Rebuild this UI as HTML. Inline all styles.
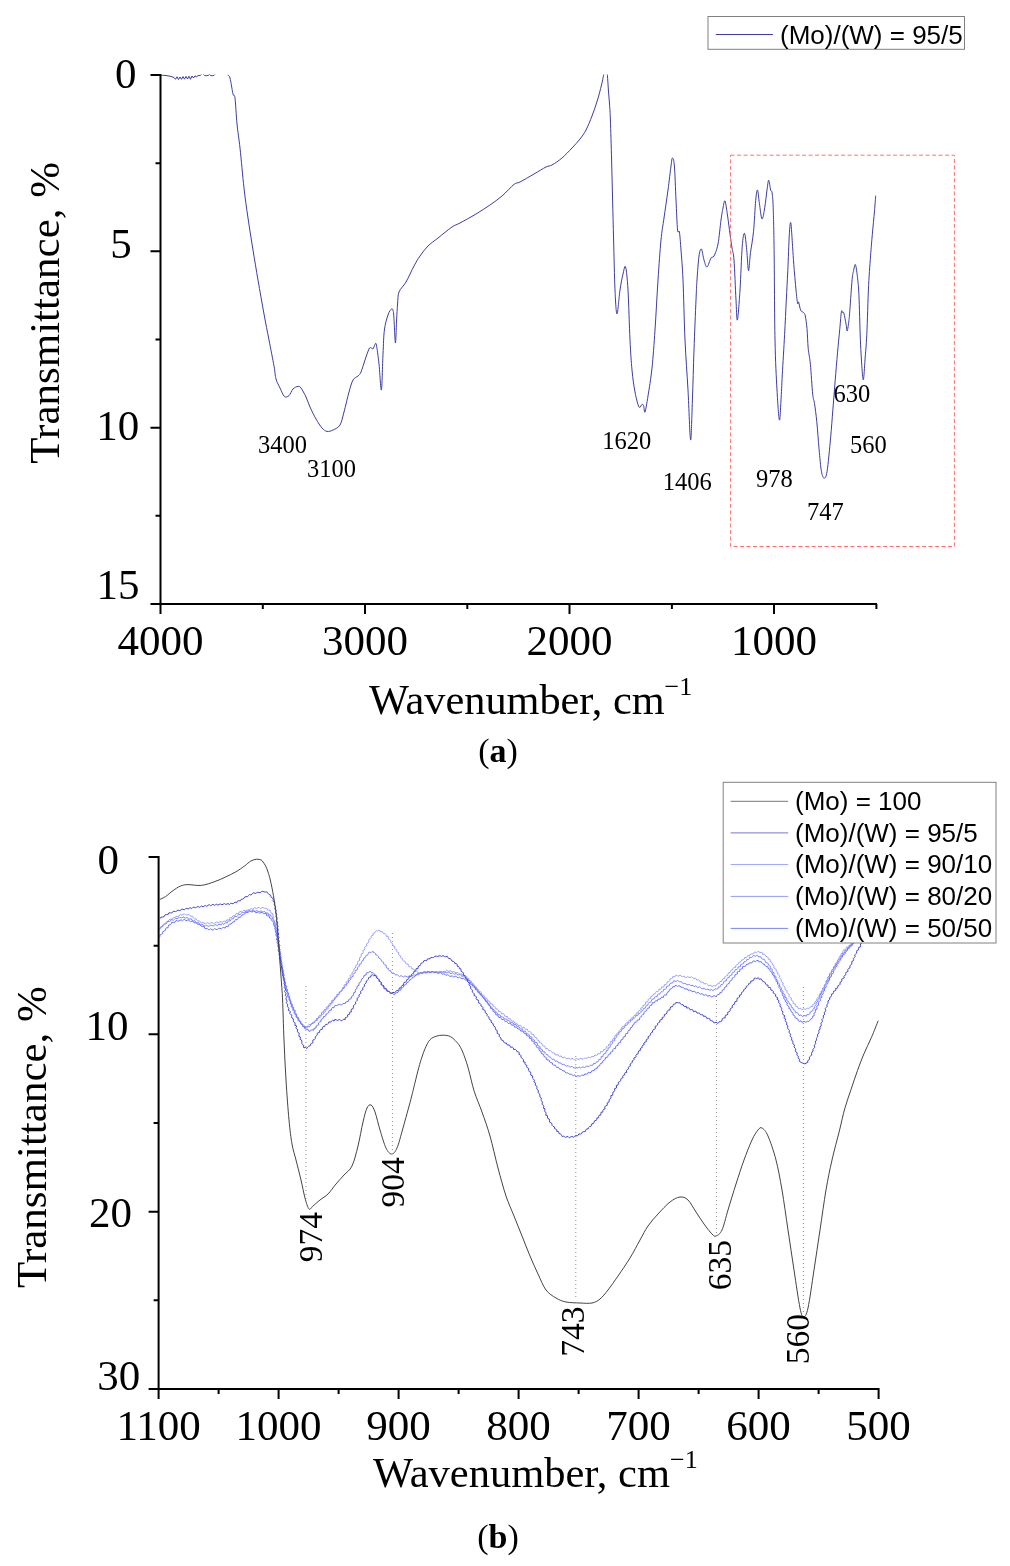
<!DOCTYPE html><html><head><meta charset="utf-8"><style>html,body{margin:0;padding:0;background:#fff;width:1010px;height:1566px;overflow:hidden}svg{display:block}</style></head><body>
<svg style="will-change:transform" width="1010" height="1566" viewBox="0 0 1010 1566">
<rect width="1010" height="1566" fill="#fff"/>
<defs><clipPath id="ca"><rect x="161" y="74.5" width="720" height="530"/></clipPath><clipPath id="cb"><rect x="159.5" y="850" width="722" height="540"/></clipPath></defs>
<g clip-path="url(#ca)" fill="none" stroke="#3c3ca4" stroke-width="1" stroke-linejoin="round">
<polyline points="160.5,75 162,75.2 166,75.5 170,76.2 172,76.8 174,77.5 175.5,79.3 177,76.8 178.5,79.5 180,77 181.5,79.3 183,76.6 184.5,79.2 186,76.4 187.5,79 189,76.2 190.5,79.3 192,76 193.5,78 195,75.8 196.5,77 197.5,75.8 199,75.5 200.5,75.4 202.5,73.2 204.5,75.5 206.5,75.7 208.5,75.4 209.5,74 210.5,75.5 212.5,75.7 214,75.4 216,73.2 218,73"/>
<path d="M227.60,75.00C228.00,75.50 229.10,74.83 230.00,78.00C230.90,81.17 232.17,90.67 233.00,94.00C233.83,97.33 234.33,93.00 235.00,98.00C235.67,103.00 236.17,115.67 237.00,124.00C237.83,132.33 238.83,137.33 240.00,148.00C241.17,158.67 242.67,176.33 244.00,188.00C245.33,199.67 246.50,207.67 248.00,218.00C249.50,228.33 251.33,239.67 253.00,250.00C254.67,260.33 256.17,269.33 258.00,280.00C259.83,290.67 262.17,304.00 264.00,314.00C265.83,324.00 267.33,331.33 269.00,340.00C270.67,348.67 272.83,359.50 274.00,366.00C275.17,372.50 275.00,375.33 276.00,379.00C277.00,382.67 278.60,385.10 280.00,388.00C281.40,390.90 282.90,395.13 284.40,396.40C285.90,397.67 287.57,396.83 289.00,395.60C290.43,394.37 291.50,390.53 293.00,389.00C294.50,387.47 296.67,386.57 298.00,386.40C299.33,386.23 299.67,386.23 301.00,388.00C302.33,389.77 304.50,393.83 306.00,397.00C307.50,400.17 308.33,403.33 310.00,407.00C311.67,410.67 314.00,415.50 316.00,419.00C318.00,422.50 320.17,425.93 322.00,428.00C323.83,430.07 325.17,431.07 327.00,431.40C328.83,431.73 330.83,431.07 333.00,430.00C335.17,428.93 338.17,428.00 340.00,425.00C341.83,422.00 342.50,417.50 344.00,412.00C345.50,406.50 347.50,397.33 349.00,392.00C350.50,386.67 351.50,382.67 353.00,380.00C354.50,377.33 356.67,377.33 358.00,376.00C359.33,374.67 359.83,374.67 361.00,372.00C362.17,369.33 363.67,363.83 365.00,360.00C366.33,356.17 368.00,351.07 369.00,349.00C370.00,346.93 370.33,347.60 371.00,347.60C371.67,347.60 372.33,349.53 373.00,349.00C373.67,348.47 374.43,345.07 375.00,344.40C375.57,343.73 375.73,341.73 376.40,345.00C377.07,348.27 378.17,356.50 379.00,364.00C379.83,371.50 380.73,391.67 381.40,390.00C382.07,388.33 382.50,364.00 383.00,354.00C383.50,344.00 383.57,336.50 384.40,330.00C385.23,323.50 386.80,318.50 388.00,315.00C389.20,311.50 390.67,309.17 391.60,309.00C392.53,308.83 392.97,308.33 393.60,314.00C394.23,319.67 394.90,342.00 395.40,343.00C395.90,344.00 396.23,326.50 396.60,320.00C396.97,313.50 397.20,308.67 397.60,304.00C398.00,299.33 397.60,295.67 399.00,292.00C400.40,288.33 403.50,286.33 406.00,282.00C408.50,277.67 411.67,270.33 414.00,266.00C416.33,261.67 417.67,259.33 420.00,256.00C422.33,252.67 425.00,249.00 428.00,246.00C431.00,243.00 434.00,241.17 438.00,238.00C442.00,234.83 448.33,229.50 452.00,227.00C455.67,224.50 456.00,225.17 460.00,223.00C464.00,220.83 471.00,217.00 476.00,214.00C481.00,211.00 485.67,208.00 490.00,205.00C494.33,202.00 498.00,199.43 502.00,196.00C506.00,192.57 511.00,186.73 514.00,184.40C517.00,182.07 516.67,183.73 520.00,182.00C523.33,180.27 529.67,176.50 534.00,174.00C538.33,171.50 543.00,168.50 546.00,167.00C549.00,165.50 549.33,166.50 552.00,165.00C554.67,163.50 558.67,160.83 562.00,158.00C565.33,155.17 569.00,151.17 572.00,148.00C575.00,144.83 577.67,142.00 580.00,139.00C582.33,136.00 584.00,133.83 586.00,130.00C588.00,126.17 590.08,121.00 592.00,116.00C593.92,111.00 595.92,105.17 597.50,100.00C599.08,94.83 600.50,89.08 601.50,85.00C602.50,80.92 603.00,77.67 603.50,75.50C604.00,73.33 604.00,72.58 604.50,72.00C605.00,71.42 606.02,71.42 606.50,72.00C606.98,72.58 607.08,72.50 607.40,75.50C607.72,78.50 608.03,85.08 608.40,90.00C608.77,94.92 609.27,100.00 609.60,105.00C609.93,110.00 610.07,110.83 610.40,120.00C610.73,129.17 611.23,146.67 611.60,160.00C611.97,173.33 612.27,186.67 612.60,200.00C612.93,213.33 613.20,225.00 613.60,240.00C614.00,255.00 614.43,277.67 615.00,290.00C615.57,302.33 616.17,314.00 617.00,314.00C617.83,314.00 619.00,296.67 620.00,290.00C621.00,283.33 622.07,277.83 623.00,274.00C623.93,270.17 624.77,264.33 625.60,267.00C626.43,269.67 627.27,277.83 628.00,290.00C628.73,302.17 629.33,326.67 630.00,340.00C630.67,353.33 631.17,361.33 632.00,370.00C632.83,378.67 633.83,385.83 635.00,392.00C636.17,398.17 637.83,404.93 639.00,407.00C640.17,409.07 641.23,404.63 642.00,404.40C642.77,404.17 643.10,404.33 643.60,405.60C644.10,406.87 644.27,413.60 645.00,412.00C645.73,410.40 646.83,403.33 648.00,396.00C649.17,388.67 650.83,379.00 652.00,368.00C653.17,357.00 654.00,344.67 655.00,330.00C656.00,315.33 657.00,295.00 658.00,280.00C659.00,265.00 660.00,250.33 661.00,240.00C662.00,229.67 662.83,226.33 664.00,218.00C665.17,209.67 666.83,198.67 668.00,190.00C669.17,181.33 670.27,171.33 671.00,166.00C671.73,160.67 671.83,158.00 672.40,158.00C672.97,158.00 673.80,159.00 674.40,166.00C675.00,173.00 675.47,189.33 676.00,200.00C676.53,210.67 677.03,224.67 677.60,230.00C678.17,235.33 678.83,228.67 679.40,232.00C679.97,235.33 680.40,242.00 681.00,250.00C681.60,258.00 682.33,265.00 683.00,280.00C683.67,295.00 684.17,321.67 685.00,340.00C685.83,358.33 687.07,373.33 688.00,390.00C688.93,406.67 689.87,438.33 690.60,440.00C691.33,441.67 691.83,415.00 692.40,400.00C692.97,385.00 693.40,366.67 694.00,350.00C694.60,333.33 695.50,311.67 696.00,300.00C696.50,288.33 696.50,287.33 697.00,280.00C697.50,272.67 698.27,261.17 699.00,256.00C699.73,250.83 700.57,248.33 701.40,249.00C702.23,249.67 703.07,257.00 704.00,260.00C704.93,263.00 705.83,267.33 707.00,267.00C708.17,266.67 709.83,259.83 711.00,258.00C712.17,256.17 712.83,258.33 714.00,256.00C715.17,253.67 716.83,250.00 718.00,244.00C719.17,238.00 720.17,226.00 721.00,220.00C721.83,214.00 722.33,211.17 723.00,208.00C723.67,204.83 724.23,199.67 725.00,201.00C725.77,202.33 726.77,210.50 727.60,216.00C728.43,221.50 729.27,228.67 730.00,234.00C730.73,239.33 731.33,243.67 732.00,248.00C732.67,252.33 733.33,251.33 734.00,260.00C734.67,268.67 735.43,290.00 736.00,300.00C736.57,310.00 736.73,321.67 737.40,320.00C738.07,318.33 739.20,302.22 740.00,290.00C740.80,277.78 741.45,256.15 742.20,246.70C742.95,237.25 743.75,232.80 744.50,233.30C745.25,233.80 746.03,243.48 746.70,249.70C747.37,255.92 747.87,270.10 748.50,270.60C749.13,271.10 749.67,259.17 750.50,252.70C751.33,246.23 752.63,240.52 753.50,231.80C754.37,223.08 755.03,207.37 755.70,200.40C756.37,193.43 756.88,189.50 757.50,190.00C758.12,190.50 758.65,198.57 759.40,203.40C760.15,208.23 761.12,218.27 762.00,219.00C762.88,219.73 763.87,212.63 764.70,207.80C765.53,202.97 766.33,194.60 767.00,190.00C767.67,185.40 768.10,180.20 768.70,180.20C769.30,180.20 770.03,187.88 770.60,190.00C771.17,192.12 771.67,189.93 772.10,192.90C772.53,195.87 772.87,198.33 773.20,207.80C773.53,217.27 773.80,227.67 774.10,249.70C774.40,271.73 774.52,316.62 775.00,340.00C775.48,363.38 776.27,376.67 777.00,390.00C777.73,403.33 778.73,418.33 779.40,420.00C780.07,421.67 780.52,407.55 781.00,400.00C781.48,392.45 781.70,385.62 782.30,374.70C782.90,363.78 783.93,346.95 784.60,334.50C785.27,322.05 785.77,310.65 786.30,300.00C786.83,289.35 787.30,281.48 787.80,270.60C788.30,259.72 788.80,242.67 789.30,234.70C789.80,226.73 790.25,220.80 790.80,222.80C791.35,224.80 792.10,239.73 792.60,246.70C793.10,253.67 793.23,257.38 793.80,264.60C794.37,271.82 795.37,283.52 796.00,290.00C796.63,296.48 797.17,301.50 797.60,303.50C798.03,305.50 798.08,300.87 798.60,302.00C799.12,303.13 799.87,308.53 800.70,310.30C801.53,312.07 802.83,311.65 803.60,312.60C804.37,313.55 804.73,313.32 805.30,316.00C805.87,318.68 806.52,323.32 807.00,328.70C807.48,334.08 807.63,342.37 808.20,348.30C808.77,354.23 809.65,356.65 810.40,364.30C811.15,371.95 812.02,387.68 812.70,394.20C813.38,400.72 813.82,398.80 814.50,403.40C815.18,408.00 816.03,414.13 816.80,421.80C817.57,429.47 818.33,441.17 819.10,449.40C819.87,457.63 820.55,466.42 821.40,471.20C822.25,475.98 823.25,478.10 824.20,478.10C825.15,478.10 826.03,477.90 827.10,471.20C828.17,464.50 829.63,448.23 830.60,437.90C831.57,427.57 832.13,418.78 832.90,409.20C833.67,399.62 834.43,389.78 835.20,380.40C835.97,371.02 836.73,361.52 837.50,352.90C838.27,344.28 839.15,335.57 839.80,328.70C840.45,321.83 840.93,314.38 841.40,311.70C841.87,309.02 842.18,312.35 842.60,312.60C843.02,312.85 843.32,311.23 843.90,313.20C844.48,315.17 845.55,321.43 846.10,324.40C846.65,327.37 846.73,331.62 847.20,331.00C847.67,330.38 848.45,324.28 848.90,320.70C849.35,317.12 849.37,316.35 849.90,309.50C850.43,302.65 851.48,286.08 852.10,279.60C852.72,273.12 853.05,273.10 853.60,270.60C854.15,268.10 854.77,263.60 855.40,264.60C856.03,265.60 856.82,271.62 857.40,276.60C857.98,281.58 858.40,283.90 858.90,294.50C859.40,305.10 859.85,327.42 860.40,340.20C860.95,352.98 861.68,364.68 862.20,371.20C862.72,377.72 863.03,381.20 863.50,379.30C863.97,377.40 864.45,367.27 865.00,359.80C865.55,352.33 866.20,346.87 866.80,334.50C867.40,322.13 867.93,299.23 868.60,285.60C869.27,271.97 870.18,261.18 870.80,252.70C871.42,244.22 871.68,241.68 872.30,234.70C872.92,227.72 873.93,217.32 874.50,210.80C875.07,204.28 875.50,198.13 875.70,195.60"/>
</g>
<rect x="730.6" y="155.2" width="223.8" height="391.3" fill="none" stroke="#ff7070" stroke-width="1" stroke-dasharray="4 2.5"/>
<path d="M160.5,74 V605 M159.5,604 H877 M150.5,75 H160.5 M150.5,251.3 H160.5 M150.5,427.7 H160.5 M150.5,604 H160.5 M155.5,163.2 H160.5 M155.5,339.5 H160.5 M155.5,515.8 H160.5 M160.5,604 V614 M365,604 V614 M569.5,604 V614 M774,604 V614 M262.8,604 V609 M467.3,604 V609 M671.9,604 V609 M876.4,604 V609" stroke="#000" stroke-width="2" fill="none"/>
<g font-family='"Liberation Serif", serif' font-size="43" fill="#000">
<text x="136.5" y="88.2" text-anchor="end">0</text>
<text x="131.8" y="258.45" text-anchor="end">5</text>
<text x="139.2" y="439.65" text-anchor="end">10</text>
<text x="139.5" y="598.5" text-anchor="end">15</text>
<text x="160.5" y="655" text-anchor="middle">4000</text>
<text x="365" y="655" text-anchor="middle">3000</text>
<text x="569.5" y="655" text-anchor="middle">2000</text>
<text x="774" y="655" text-anchor="middle">1000</text>
</g>
<text transform="translate(59.3,312.8) rotate(-90)" text-anchor="middle" font-family='"Liberation Serif", serif' font-size="43">Transmittance, %</text>
<text x="369" y="714" font-family='"Liberation Serif", serif' font-size="42.3">Wavenumber, cm<tspan font-size="26" dy="-19.5">−1</tspan></text>
<text x="498" y="761.5" text-anchor="middle" font-family='"Liberation Serif", serif' font-size="34">(<tspan font-weight="bold">a</tspan>)</text>
<g font-family='"Liberation Serif", serif' font-size="24.5" fill="#000">
<text x="258" y="453">3400</text>
<text x="307" y="477">3100</text>
<text x="602.2" y="449">1620</text>
<text x="662.8" y="490">1406</text>
<text x="756" y="486.8">978</text>
<text x="807" y="520">747</text>
<text x="833.4" y="401.7">630</text>
<text x="850" y="453">560</text>
</g>
<rect x="708" y="16.5" width="256.5" height="32.8" fill="#fff" stroke="#808080" stroke-width="1"/>
<line x1="715.8" y1="34.5" x2="772.9" y2="34.5" stroke="#3c3ca4" stroke-width="1"/>
<text x="780" y="43.5" font-family='"Liberation Sans", sans-serif' font-size="26">(Mo)/(W) = 95/5</text>
<line x1="305.9" y1="986" x2="305.9" y2="1200" stroke="#909090" stroke-width="1" stroke-dasharray="1 3"/>
<line x1="392.4" y1="933" x2="392.4" y2="1150" stroke="#909090" stroke-width="1" stroke-dasharray="1 3"/>
<line x1="575.8" y1="1056" x2="575.8" y2="1300" stroke="#909090" stroke-width="1" stroke-dasharray="1 3"/>
<line x1="716.4" y1="996" x2="716.4" y2="1234" stroke="#909090" stroke-width="1" stroke-dasharray="1 3"/>
<line x1="803.4" y1="987" x2="803.4" y2="1315" stroke="#909090" stroke-width="1" stroke-dasharray="1 3"/>
<g clip-path="url(#cb)" fill="none" stroke-width="1" stroke-linejoin="round">
<path d="M159.0,929.0 L159.9,928.9 L159.9,927.5 L161.0,927.1 L162.4,926.8 L162.6,925.0 L163.8,924.2 L165.2,923.7 L165.8,922.3 L166.8,921.4 L168.2,921.3 L168.9,920.0 L170.0,919.2 L171.7,919.5 L172.5,918.1 L173.8,917.6 L175.2,917.7 L175.9,916.3 L177.1,916.4 L178.3,916.6 L179.4,915.0 L180.5,914.3 L181.8,915.2 L183.0,914.3 L184.3,913.9 L185.6,915.0 L187.1,914.9 L188.8,914.3 L189.9,915.7 L191.1,916.2 L192.7,916.3 L193.3,917.9 L194.4,918.9 L196.2,918.8 L196.9,920.2 L197.9,921.0 L199.5,920.9 L200.3,922.1 L201.4,922.8 L202.9,922.3 L204.0,923.0 L205.2,923.8 L206.6,923.1 L207.9,922.7 L209.3,923.8 L210.6,922.9 L212.0,922.6 L213.4,923.4 L214.8,923.3 L216.1,922.0 L217.5,922.3 L218.9,922.8 L219.9,921.6 L221.3,921.8 L222.6,922.2 L223.6,921.1 L224.8,921.2 L226.2,921.4 L226.7,919.9 L227.9,919.9 L229.3,919.9 L229.5,918.0 L230.8,917.6 L232.2,917.3 L232.8,916.0 L234.2,915.6 L235.5,915.1 L236.1,913.4 L237.8,913.5 L239.0,912.9 L239.8,911.4 L241.5,911.9 L242.7,911.3 L243.9,910.1 L245.5,911.0 L246.8,910.5 L247.9,909.7 L249.4,910.3 L250.3,908.9 L251.4,908.5 L252.9,909.4 L253.8,908.1 L254.9,907.6 L256.5,908.5 L257.9,907.5 L259.3,907.7 L260.7,908.7 L262.0,907.6 L263.4,907.7 L264.5,908.6 L265.8,908.1 L267.2,908.7 L267.5,910.1 L268.6,910.2 L270.1,910.0 L270.4,911.6 L271.0,912.8 L272.9,913.8 L272.9,916.1 L273.0,916.9 L274.1,917.5 L273.1,918.7 L273.7,919.6 L274.6,920.5 L274.1,921.7 L274.1,922.8 L275.3,923.8 L275.0,925.1 L274.3,926.4 L275.4,927.5 L275.8,928.8 L275.1,930.2 L275.9,931.5 L276.5,932.8 L275.7,934.3 L276.2,935.7 L277.2,937.0 L276.6,938.6 L276.6,940.1 L277.6,941.0 L276.7,942.3 L277.3,943.3 L278.4,944.3 L277.7,945.7 L277.8,946.9 L278.9,948.0 L278.3,949.4 L278.2,950.7 L279.7,951.8 L279.3,953.2 L279.0,954.6 L280.3,955.7 L279.8,957.1 L279.5,958.5 L280.7,959.7 L280.4,961.1 L280.4,962.4 L281.9,963.5 L281.1,964.9 L281.0,966.2 L282.4,967.2 L281.6,968.6 L281.9,969.7 L282.9,970.7 L282.4,972.0 L282.1,973.1 L283.3,973.9 L283.4,975.4 L283.0,977.0 L284.2,978.2 L284.6,979.4 L284.1,980.9 L285.3,981.9 L285.6,983.2 L284.9,984.6 L285.8,985.6 L286.6,986.5 L285.8,988.0 L286.6,988.9 L287.7,989.7 L287.0,991.1 L287.6,992.0 L288.4,992.9 L288.1,994.1 L288.7,995.0 L289.6,995.8 L288.7,997.6 L290.0,998.6 L290.6,999.7 L290.4,1001.2 L290.6,1002.4 L291.9,1003.2 L291.7,1004.6 L291.9,1005.8 L293.0,1006.6 L293.4,1007.6 L292.8,1009.1 L294.1,1009.8 L295.2,1010.6 L294.8,1012.1 L295.3,1013.3 L296.8,1014.1 L296.5,1015.8 L296.7,1017.3 L298.4,1018.0 L298.8,1019.4 L298.7,1021.0 L300.1,1021.7 L300.7,1022.8 L300.8,1024.1 L301.9,1024.6 L302.5,1025.3 L302.7,1026.5 L304.4,1026.4 L305.6,1026.6 L307.1,1027.0 L308.1,1025.5 L309.2,1024.3 L311.3,1024.5 L311.9,1023.4 L312.6,1022.4 L314.2,1022.7 L314.9,1021.5 L315.7,1020.4 L317.4,1020.4 L317.7,1018.7 L318.7,1017.6 L320.4,1017.4 L321.1,1016.1 L321.3,1014.7 L322.7,1014.6 L323.7,1014.0 L323.6,1012.4 L324.9,1012.0 L325.8,1011.2 L325.8,1009.7 L326.9,1009.0 L328.3,1008.5 L327.9,1006.6 L329.4,1006.2 L330.6,1005.4 L330.7,1003.8 L331.4,1002.9 L333.0,1002.7 L332.9,1001.1 L333.5,1000.1 L334.9,999.7 L335.4,998.5 L335.6,997.1 L337.1,996.7 L337.8,995.6 L338.0,994.2 L339.7,993.8 L339.8,992.2 L340.5,991.2 L342.0,990.6 L342.3,989.1 L342.5,987.7 L344.2,987.4 L344.1,986.0 L344.3,984.7 L345.9,984.3 L346.5,983.3 L346.2,981.8 L347.6,981.2 L348.4,980.3 L348.1,978.7 L349.8,978.3 L350.4,977.2 L350.0,975.5 L351.5,974.9 L352.1,973.8 L352.1,972.3 L353.3,971.5 L354.0,970.5 L353.8,968.8 L355.0,968.0 L355.9,967.2 L355.6,965.7 L356.9,965.0 L357.7,964.0 L357.5,962.4 L358.0,961.2 L359.7,960.6 L359.5,959.0 L359.6,957.6 L361.0,956.8 L361.2,955.5 L361.2,954.0 L362.9,953.4 L363.2,952.2 L362.8,950.6 L364.2,949.9 L365.0,948.9 L364.5,947.4 L365.3,946.5 L366.7,946.1 L366.6,944.9 L366.6,943.8 L368.3,942.8 L368.7,941.3 L368.8,939.6 L370.2,938.8 L371.2,937.9 L371.0,936.3 L372.1,935.6 L373.3,935.2 L373.0,933.7 L373.6,933.0 L374.8,932.9 L374.9,931.9 L376.3,930.6 L377.6,931.0 L378.8,930.2 L380.1,930.8 L380.6,932.1 L382.0,931.5 L382.9,932.2 L383.4,933.6 L385.1,933.6 L386.1,934.7 L386.4,936.5 L388.2,936.3 L388.4,937.5 L388.3,938.9 L389.8,939.4 L390.6,940.3 L390.5,941.8 L391.3,942.8 L392.7,943.5 L392.9,944.9 L393.3,946.1 L395.0,946.6 L394.6,948.3 L395.4,949.2 L396.8,949.7 L396.7,951.2 L397.5,952.2 L398.9,952.7 L398.6,954.4 L399.3,955.4 L400.7,955.9 L400.7,957.3 L401.3,958.4 L402.7,958.8 L402.7,960.3 L403.8,961.0 L405.2,961.5 L405.4,963.0 L406.3,964.0 L408.0,964.0 L408.5,965.3 L408.9,966.8 L410.6,966.7 L411.6,967.3 L411.7,969.0 L413.0,968.9 L414.5,969.6 L415.0,971.2 L416.6,971.1 L417.6,971.7 L418.3,973.1 L419.8,972.5 L421.0,972.7 L422.1,973.6 L423.3,972.8 L424.5,972.6 L425.9,973.5 L427.0,972.4 L428.2,971.6 L429.7,972.5 L431.0,971.9 L432.1,971.5 L433.4,972.5 L434.6,972.1 L435.9,971.4 L437.2,972.7 L438.5,972.1 L439.7,971.3 L440.9,972.4 L442.0,972.4 L442.9,971.2 L444.7,972.2 L445.7,971.4 L446.6,970.3 L448.1,971.3 L450.0,971.0 L451.0,970.8 L451.7,972.0 L452.8,971.8 L454.0,971.5 L455.0,972.3 L456.2,972.8 L457.6,972.4 L458.5,973.7 L459.7,974.3 L461.4,973.7 L462.3,975.2 L463.5,975.7 L465.3,975.5 L466.0,977.1 L466.5,978.1 L468.0,978.0 L468.9,978.7 L468.8,980.4 L470.1,980.8 L471.4,981.3 L471.6,982.8 L472.7,983.4 L473.9,984.1 L474.0,985.7 L475.4,986.2 L476.5,987.0 L476.5,988.7 L478.1,989.1 L478.8,990.1 L478.9,991.8 L480.8,991.8 L481.5,992.8 L481.4,994.5 L482.8,995.0 L484.2,995.5 L484.2,997.3 L485.3,997.9 L486.9,998.2 L487.3,999.6 L487.8,1000.9 L489.4,1001.1 L490.1,1002.3 L490.4,1003.7 L491.9,1004.0 L493.0,1004.6 L493.2,1006.2 L494.6,1006.5 L495.4,1007.5 L495.8,1008.9 L497.3,1009.0 L498.2,1009.8 L498.5,1011.5 L500.3,1011.3 L501.1,1012.4 L501.5,1013.9 L503.4,1013.6 L504.2,1014.6 L504.6,1016.1 L505.9,1016.5 L507.5,1016.5 L507.9,1017.9 L508.7,1018.9 L510.3,1018.7 L511.0,1020.0 L511.6,1021.2 L513.1,1021.1 L514.2,1021.7 L514.8,1023.2 L516.2,1023.3 L517.3,1023.8 L517.9,1025.3 L519.3,1025.4 L520.7,1025.3 L521.3,1026.8 L522.2,1027.6 L523.9,1027.1 L524.6,1028.5 L525.5,1029.4 L527.2,1029.0 L527.7,1030.6 L528.5,1031.7 L530.3,1031.7 L531.0,1032.6 L531.3,1034.1 L532.8,1034.3 L533.9,1034.9 L534.0,1036.6 L535.2,1037.3 L536.6,1037.7 L536.9,1039.3 L537.9,1040.2 L539.2,1040.8 L539.2,1042.5 L540.7,1042.9 L541.9,1043.5 L542.1,1045.1 L543.1,1045.9 L544.6,1046.1 L545.2,1047.2 L545.5,1048.6 L547.3,1048.5 L548.3,1049.4 L548.9,1050.8 L550.6,1050.6 L551.5,1051.6 L552.2,1052.8 L553.6,1052.9 L554.8,1053.2 L555.2,1055.0 L556.6,1054.9 L558.0,1054.7 L558.7,1056.0 L559.8,1056.4 L561.2,1055.9 L561.9,1057.2 L563.1,1057.8 L564.6,1057.1 L565.7,1058.1 L566.8,1058.7 L568.2,1058.3 L569.4,1058.2 L570.6,1059.5 L571.9,1058.4 L573.1,1058.6 L574.3,1059.8 L575.5,1059.0 L576.8,1058.5 L578.0,1059.3 L579.3,1059.4 L580.4,1058.1 L581.8,1058.8 L583.1,1059.3 L584.3,1058.1 L585.6,1058.1 L587.0,1058.4 L588.0,1057.2 L589.3,1057.3 L590.8,1057.8 L591.6,1056.3 L592.9,1056.5 L594.1,1056.3 L594.9,1055.0 L596.3,1055.3 L597.4,1055.0 L597.9,1053.5 L599.3,1053.8 L600.4,1053.3 L600.6,1051.7 L602.1,1051.7 L603.2,1051.1 L603.6,1049.6 L605.3,1049.4 L606.2,1048.2 L606.3,1046.9 L607.6,1046.7 L608.5,1046.0 L608.5,1044.5 L609.9,1044.1 L610.3,1042.9 L610.3,1041.4 L612.2,1041.2 L612.6,1040.0 L612.9,1038.6 L614.5,1038.2 L614.9,1036.8 L615.0,1035.3 L616.7,1035.0 L616.9,1033.6 L617.7,1032.6 L619.2,1032.3 L619.0,1030.7 L619.8,1029.8 L621.3,1029.4 L621.8,1028.0 L622.2,1026.5 L623.8,1026.2 L625.0,1025.4 L625.3,1023.8 L626.4,1023.0 L627.9,1022.7 L628.3,1021.2 L629.1,1020.2 L630.5,1020.0 L631.0,1018.8 L631.6,1017.8 L633.1,1017.8 L633.3,1016.6 L633.8,1015.8 L635.7,1015.2 L636.1,1013.9 L636.4,1012.8 L637.8,1013.1 L638.1,1012.1 L638.6,1010.9 L640.1,1010.1 L641.2,1009.7 L640.7,1008.0 L642.2,1007.8 L643.1,1007.0 L643.0,1005.3 L644.7,1005.1 L645.5,1004.0 L645.4,1002.2 L647.1,1001.9 L648.1,1000.9 L648.2,999.3 L649.4,998.6 L650.9,998.3 L650.8,996.5 L652.1,996.1 L653.2,995.4 L653.6,994.0 L655.1,993.8 L655.7,992.6 L656.3,991.4 L657.9,991.6 L658.7,990.7 L659.0,989.1 L660.7,989.4 L661.3,988.3 L661.7,986.9 L663.5,987.2 L664.1,986.1 L664.4,984.6 L666.2,984.5 L666.9,983.4 L667.3,981.8 L668.7,981.4 L669.8,980.6 L670.0,978.9 L671.4,978.6 L672.6,978.1 L672.8,976.5 L674.2,976.6 L675.2,976.6 L676.1,974.9 L677.5,975.8 L678.7,976.0 L680.1,975.2 L681.3,975.9 L682.4,977.0 L683.9,976.1 L684.9,976.7 L685.9,977.8 L687.5,976.8 L688.8,977.1 L690.0,977.6 L691.4,976.8 L692.6,977.4 L693.8,978.8 L695.2,977.9 L696.1,978.9 L696.9,980.1 L698.6,979.8 L699.7,980.5 L700.3,982.1 L701.8,982.1 L703.2,982.1 L703.8,983.5 L705.1,983.9 L706.7,983.6 L707.7,984.7 L708.5,985.9 L710.0,985.2 L711.1,985.4 L711.9,986.8 L713.3,985.6 L714.3,985.7 L715.7,986.2 L716.5,984.9 L717.7,983.7 L719.1,983.8 L719.3,982.4 L720.0,981.5 L721.7,981.5 L722.1,980.0 L722.8,978.9 L724.5,978.5 L724.8,976.9 L725.8,975.9 L727.6,975.6 L728.0,974.0 L728.4,972.8 L730.0,972.7 L730.5,971.5 L731.0,970.3 L732.6,970.0 L732.9,968.5 L733.8,967.6 L735.5,967.5 L735.7,965.9 L736.4,964.9 L737.8,964.5 L738.5,963.6 L738.8,962.3 L740.1,962.1 L741.3,961.3 L741.8,959.8 L743.4,959.7 L744.4,958.9 L744.7,957.3 L746.5,957.7 L747.2,956.7 L747.8,955.5 L749.3,956.1 L749.8,954.7 L751.1,953.9 L752.9,954.0 L753.8,952.7 L755.1,952.0 L756.6,952.7 L757.7,951.6 L759.1,951.6 L759.8,952.8 L761.2,952.2 L762.3,952.7 L762.6,954.4 L764.3,954.1 L765.1,955.1 L765.8,956.4 L767.3,956.7 L768.2,957.9 L768.2,959.2 L769.8,959.2 L770.3,960.2 L770.1,961.7 L771.4,962.1 L772.3,962.9 L772.0,964.5 L773.4,965.1 L774.0,966.2 L773.8,967.9 L775.4,968.6 L776.3,969.8 L776.0,971.2 L776.9,972.0 L778.1,972.7 L777.7,974.2 L778.5,975.1 L779.9,975.9 L779.2,977.7 L780.1,978.6 L781.3,979.6 L781.2,981.1 L782.0,982.2 L783.3,983.0 L782.7,984.7 L783.3,985.9 L784.8,986.6 L785.0,987.8 L784.9,989.3 L786.0,990.0 L787.2,990.9 L787.0,992.6 L788.0,993.7 L789.3,994.6 L788.9,996.4 L789.9,997.4 L791.4,998.1 L791.1,999.9 L792.2,1000.7 L793.2,1001.5 L793.0,1003.1 L794.1,1003.7 L795.4,1004.1 L795.1,1005.6 L795.8,1006.2 L797.6,1006.7 L798.1,1008.5 L799.6,1008.5 L800.8,1008.3 L801.7,1009.6 L802.9,1009.3 L804.0,1008.6 L805.2,1009.5 L806.3,1009.0 L807.3,1008.0 L808.7,1008.4 L809.8,1007.9 L810.6,1006.6 L812.4,1006.5 L812.6,1005.3 L812.9,1004.3 L814.3,1004.0 L814.9,1003.1 L814.9,1001.7 L816.1,1001.1 L816.9,1000.1 L816.8,998.5 L817.8,997.6 L819.2,996.8 L819.1,995.1 L819.6,993.8 L821.0,993.4 L821.2,992.3 L821.3,991.0 L822.5,990.4 L822.8,989.3 L822.8,988.0 L824.6,987.7 L824.4,986.2 L824.7,985.0 L825.7,984.1 L826.6,983.1 L826.2,981.5 L828.1,981.1 L827.8,979.4 L828.5,978.3 L829.9,977.5 L829.6,975.8 L830.4,974.9 L831.6,974.2 L831.5,972.8 L831.9,971.6 L833.2,970.8 L833.2,969.3 L833.5,967.9 L834.9,967.1 L835.1,965.7 L835.1,964.2 L836.7,963.5 L837.4,962.3 L837.0,960.7 L838.2,959.8 L839.3,959.0 L838.9,957.4 L839.6,956.4 L841.1,956.0 L840.9,954.6 L841.1,953.5 L842.5,953.3 L842.9,951.5 L843.6,949.9 L845.4,949.7 L846.0,948.5 L846.4,947.1 L848.0,947.3 L848.5,946.2 L849.0,945.2 L850.6,945.2 L851.0,944.0 L851.4,942.8 L852.8,942.6 L853.2,941.8 L853.0,940.5 L854.4,940.3 L855.0,939.4 L855.2,937.8 L856.8,936.8 L858.4,935.3 L858.1,934.0 L859.2,933.5 L860.2,933.0 L860.0,931.4 L861.2,930.7 L862.5,930.1 L862.8,928.6 L863.7,927.5 L865.4,927.1 L865.2,925.0 L866.6,924.3 L867.8,923.3 L868.0,921.6 L869.1,920.6 L870.8,920.1 L871.0,918.4 L871.8,917.2 L873.3,916.7 L873.3,915.0 L874.4,914.4 L875.8,913.9 L875.8,912.5 L876.3,911.6 L877.6,911.6 L877.4,910.4 L878.0,910.0" stroke="#9aa0ff"/>
<path d="M159.0,929.0 L160.1,929.2 L160.1,927.6 L161.1,926.9 L162.7,926.6 L163.3,925.1 L164.4,924.1 L166.1,923.9 L167.0,922.8 L167.7,921.4 L169.3,921.6 L170.6,920.8 L171.6,919.6 L173.4,920.2 L174.6,919.3 L175.6,918.3 L177.0,918.7 L178.0,918.2 L179.4,917.2 L180.7,917.7 L181.8,918.1 L182.9,916.9 L184.0,917.3 L185.1,918.1 L186.4,917.7 L187.7,917.7 L188.5,919.3 L190.0,919.0 L191.4,918.8 L192.1,920.4 L193.3,921.0 L194.9,920.7 L195.7,922.2 L196.8,922.8 L198.3,922.7 L199.4,923.4 L200.1,924.8 L201.6,924.7 L203.0,924.6 L203.9,925.9 L205.3,925.8 L206.6,925.3 L207.9,926.1 L209.3,926.1 L210.6,925.3 L212.0,925.3 L213.4,926.2 L214.7,924.7 L216.1,924.9 L217.6,925.7 L218.7,924.1 L220.0,924.6 L221.4,924.7 L222.4,923.2 L223.9,924.5 L224.7,923.2 L225.9,922.7 L227.3,923.1 L227.8,921.7 L228.6,920.9 L230.2,921.0 L230.8,919.6 L231.8,918.8 L233.4,918.8 L233.9,917.2 L235.0,916.4 L236.8,916.6 L237.7,915.4 L238.6,914.1 L240.2,914.5 L241.2,913.6 L242.1,912.4 L243.5,912.6 L244.8,912.4 L245.6,911.1 L246.9,911.4 L248.0,911.2 L249.3,910.3 L250.6,911.3 L251.9,910.7 L253.4,910.0 L255.0,911.5 L256.0,911.1 L257.2,910.4 L258.3,911.5 L259.6,911.5 L261.0,910.9 L262.2,911.8 L263.5,911.8 L264.9,911.6 L265.7,912.8 L267.0,913.0 L268.2,913.1 L268.3,914.8 L269.5,914.7 L270.7,914.8 L270.8,916.2 L271.6,916.9 L272.7,917.6 L272.8,919.1 L273.4,920.5 L274.9,921.9 L275.0,924.0 L274.8,924.9 L276.0,925.6 L275.4,926.7 L275.7,927.6 L276.7,928.5 L275.8,929.8 L276.6,930.8 L277.4,931.9 L276.2,933.3 L277.6,934.3 L277.5,935.6 L277.0,937.0 L278.0,938.1 L277.9,939.5 L277.3,940.9 L278.6,942.1 L278.9,943.4 L278.1,944.9 L279.0,946.2 L279.5,947.5 L278.8,948.9 L279.0,950.2 L280.4,951.4 L279.7,952.8 L279.6,954.1 L280.9,955.2 L280.6,956.5 L280.2,957.8 L281.2,958.8 L281.2,960.0 L280.9,961.4 L282.1,962.5 L281.9,963.9 L281.4,965.3 L282.5,966.5 L282.8,967.7 L282.0,969.2 L283.1,970.3 L283.4,971.5 L282.8,972.9 L283.5,974.0 L284.3,975.2 L283.7,976.5 L283.9,977.7 L284.8,978.8 L284.7,980.0 L284.5,981.3 L285.7,982.2 L285.5,983.5 L285.1,984.7 L286.1,985.7 L286.8,986.7 L285.8,988.0 L286.7,989.0 L287.6,989.8 L287.0,991.5 L287.7,992.7 L288.9,993.8 L288.1,995.4 L288.9,996.6 L290.0,997.6 L289.4,999.1 L289.9,1000.3 L291.0,1001.2 L290.9,1002.5 L290.9,1003.8 L292.5,1004.5 L292.0,1005.9 L292.4,1007.1 L293.9,1007.6 L293.3,1009.1 L293.9,1010.1 L295.2,1010.7 L294.6,1012.2 L295.4,1013.3 L296.6,1014.3 L296.4,1016.0 L297.6,1017.0 L298.8,1017.9 L298.6,1019.6 L299.4,1020.7 L300.8,1021.3 L300.9,1022.8 L301.6,1023.7 L302.9,1024.2 L303.0,1025.5 L303.4,1026.4 L304.8,1026.0 L304.9,1027.2 L306.2,1027.9 L307.3,1027.1 L308.3,1026.6 L309.9,1026.6 L310.6,1025.2 L311.4,1023.7 L313.3,1023.4 L314.0,1022.6 L314.2,1021.2 L315.5,1021.0 L316.4,1020.2 L316.4,1018.6 L318.1,1018.4 L318.6,1017.2 L319.1,1015.9 L320.6,1015.4 L321.5,1014.4 L321.6,1012.6 L323.0,1012.0 L324.0,1011.4 L324.0,1009.8 L325.5,1009.6 L326.3,1008.7 L326.4,1007.2 L327.7,1006.6 L329.0,1006.1 L329.0,1004.4 L329.8,1003.5 L331.5,1003.2 L331.8,1001.9 L331.9,1000.3 L333.8,1000.2 L334.4,999.1 L334.6,997.7 L335.9,997.1 L337.1,996.6 L336.8,994.7 L338.4,994.5 L339.2,993.6 L339.2,992.1 L340.6,991.7 L341.8,991.1 L342.0,989.7 L342.8,988.8 L344.2,988.3 L344.4,986.9 L345.3,986.0 L346.6,985.4 L346.6,983.7 L347.7,983.1 L348.8,982.4 L348.5,980.8 L349.9,980.2 L350.9,979.4 L350.9,977.9 L351.6,976.8 L353.2,976.3 L353.0,974.6 L353.6,973.5 L355.2,973.0 L355.2,971.5 L355.5,970.3 L357.2,970.0 L357.6,968.9 L357.3,967.4 L358.6,966.9 L359.3,966.2 L359.2,964.3 L361.2,963.8 L361.5,962.3 L362.0,960.9 L363.4,960.4 L363.6,959.0 L364.1,957.9 L365.4,957.5 L365.7,956.4 L366.0,955.3 L367.3,955.3 L368.3,953.7 L369.0,952.1 L370.7,952.5 L371.7,952.1 L373.2,951.4 L373.6,952.7 L374.7,952.8 L375.6,953.6 L375.8,955.0 L377.4,955.3 L378.5,956.3 L378.8,958.0 L380.1,958.8 L381.3,959.7 L381.4,961.1 L382.4,961.7 L383.7,962.2 L383.6,963.9 L384.5,964.8 L386.2,965.2 L386.0,967.0 L386.7,968.1 L388.4,968.3 L388.4,969.9 L389.2,970.7 L390.7,970.8 L390.9,972.1 L392.1,973.2 L393.9,973.0 L394.7,974.3 L395.9,975.0 L397.4,974.6 L398.4,975.7 L399.6,976.5 L401.1,975.6 L402.2,976.3 L403.5,976.9 L404.8,976.1 L406.0,976.1 L407.3,977.0 L408.5,976.3 L409.7,975.7 L411.0,976.2 L412.3,976.1 L413.2,974.8 L414.6,975.1 L416.0,975.2 L416.8,973.8 L418.1,973.5 L419.7,973.8 L420.9,972.6 L422.1,972.8 L423.4,973.2 L424.4,971.9 L425.7,972.2 L427.1,973.0 L428.3,972.1 L429.6,971.8 L431.0,972.5 L432.3,971.8 L433.7,971.7 L435.0,972.5 L436.2,971.8 L437.4,971.6 L438.7,972.4 L439.9,972.1 L441.1,971.5 L442.4,972.5 L443.6,972.2 L444.9,971.7 L446.1,972.8 L447.4,972.7 L448.8,971.9 L449.9,973.4 L451.1,973.7 L452.5,972.9 L453.6,973.7 L454.8,974.2 L456.2,973.4 L457.2,974.7 L458.5,975.0 L460.0,974.4 L461.0,975.6 L462.1,976.4 L463.9,975.7 L464.7,977.3 L465.7,978.4 L467.1,978.3 L467.6,979.3 L467.9,980.5 L469.5,980.5 L470.1,981.5 L470.5,982.8 L471.9,983.1 L472.6,984.1 L472.5,985.8 L474.4,985.9 L474.7,987.2 L475.3,988.4 L476.9,988.8 L477.1,990.3 L477.7,991.5 L479.2,991.9 L479.6,993.2 L479.9,994.6 L481.7,994.7 L482.2,995.8 L482.5,997.2 L483.8,997.7 L484.6,998.6 L484.7,1000.2 L486.0,1000.7 L487.3,1001.2 L487.3,1002.9 L488.2,1003.7 L489.7,1004.1 L489.7,1005.7 L490.5,1006.7 L491.9,1007.2 L492.4,1008.3 L492.8,1009.6 L494.1,1010.0 L495.0,1010.7 L495.3,1012.1 L496.7,1012.2 L497.3,1013.1 L497.7,1014.3 L499.2,1014.7 L500.4,1015.3 L500.9,1017.0 L502.4,1016.9 L503.6,1017.4 L504.1,1019.0 L505.5,1019.0 L506.9,1019.1 L507.3,1020.8 L508.7,1020.7 L509.9,1021.2 L510.5,1022.6 L511.9,1022.6 L513.2,1022.9 L513.7,1024.4 L515.1,1024.5 L516.4,1024.8 L516.8,1026.3 L517.9,1026.9 L519.4,1026.9 L519.9,1028.2 L520.7,1029.2 L522.5,1028.8 L522.8,1030.4 L523.7,1031.3 L525.5,1031.1 L526.0,1032.5 L526.5,1033.9 L528.3,1033.9 L529.2,1034.8 L529.6,1036.5 L530.8,1036.8 L532.0,1037.2 L532.1,1038.7 L532.9,1039.6 L534.4,1040.0 L534.7,1041.3 L535.2,1042.5 L537.0,1042.7 L537.4,1044.0 L537.5,1045.5 L539.0,1046.0 L540.1,1046.6 L540.0,1048.4 L541.1,1049.1 L542.3,1049.6 L542.6,1051.0 L543.2,1052.0 L545.0,1051.9 L545.0,1053.4 L545.8,1054.3 L547.4,1054.5 L548.1,1055.9 L549.1,1056.8 L550.5,1057.1 L551.2,1058.4 L552.0,1059.4 L553.8,1059.1 L554.6,1060.1 L555.4,1061.3 L556.9,1061.0 L557.9,1061.7 L558.6,1063.0 L560.0,1062.8 L561.1,1063.2 L561.8,1064.4 L563.3,1064.3 L564.6,1064.6 L565.6,1065.8 L566.8,1066.1 L568.3,1065.7 L569.3,1066.8 L570.6,1067.0 L572.0,1066.3 L573.0,1067.5 L574.2,1068.0 L575.6,1067.0 L576.8,1067.6 L578.0,1068.0 L579.2,1067.1 L580.5,1068.0 L581.8,1067.4 L583.0,1066.8 L584.4,1067.5 L585.6,1067.1 L586.7,1065.8 L588.2,1066.6 L589.4,1066.1 L590.4,1065.1 L591.8,1065.3 L593.1,1065.0 L593.6,1063.3 L595.2,1063.7 L596.0,1062.9 L596.5,1061.8 L598.0,1061.8 L598.5,1060.7 L598.9,1059.4 L600.6,1059.4 L601.1,1058.3 L601.1,1056.7 L602.9,1056.5 L603.1,1055.0 L603.8,1053.9 L605.7,1053.6 L606.1,1052.0 L606.1,1050.7 L607.7,1050.6 L608.0,1049.4 L608.1,1048.0 L609.7,1047.7 L610.2,1046.5 L610.2,1045.0 L611.6,1044.4 L612.4,1043.3 L612.5,1041.9 L613.6,1041.0 L614.9,1040.3 L614.6,1038.6 L615.8,1037.9 L616.8,1037.0 L616.8,1035.5 L617.6,1034.6 L618.9,1034.1 L619.0,1032.6 L619.8,1031.8 L621.3,1031.3 L621.8,1029.9 L622.4,1028.6 L624.0,1028.2 L624.6,1026.9 L625.2,1025.5 L626.8,1025.2 L627.6,1024.1 L628.1,1022.9 L629.4,1022.4 L630.5,1021.8 L630.6,1020.2 L631.9,1020.0 L632.9,1019.6 L633.0,1018.2 L634.1,1018.1 L635.6,1017.0 L635.9,1015.4 L637.3,1015.6 L638.0,1015.2 L638.2,1013.6 L640.2,1013.2 L640.8,1012.5 L641.0,1011.2 L642.4,1010.9 L643.1,1009.9 L643.5,1008.5 L645.2,1008.2 L645.7,1006.9 L646.2,1005.5 L647.8,1005.1 L648.2,1003.6 L649.0,1002.4 L650.6,1002.2 L651.3,1001.0 L651.7,999.7 L652.9,999.1 L654.3,998.7 L654.5,997.2 L655.7,996.7 L657.2,996.5 L657.4,994.9 L658.3,994.1 L659.9,994.2 L660.2,992.7 L661.0,991.8 L662.5,991.8 L663.4,991.1 L663.5,989.4 L665.2,989.3 L666.3,988.4 L666.6,986.6 L668.1,986.1 L669.4,985.5 L669.7,983.9 L670.9,983.1 L672.4,983.1 L673.1,982.0 L673.7,980.7 L675.0,981.1 L676.2,981.2 L677.5,980.5 L678.6,981.2 L679.7,981.9 L681.2,981.7 L682.3,982.4 L683.2,983.7 L684.8,983.5 L686.1,983.8 L687.0,984.9 L688.3,984.6 L689.6,984.5 L690.6,985.7 L692.0,985.3 L693.2,985.5 L694.2,986.8 L695.7,985.8 L696.8,986.6 L697.8,987.7 L699.3,986.9 L700.6,987.3 L701.6,988.6 L702.9,988.6 L704.4,988.2 L705.4,989.5 L706.7,989.4 L708.0,989.0 L708.9,990.1 L710.0,990.1 L711.5,989.5 L712.9,990.6 L714.1,989.7 L715.1,988.8 L716.8,989.2 L718.2,988.3 L718.4,986.9 L719.9,987.0 L720.6,986.0 L721.0,984.6 L722.6,984.4 L723.4,983.3 L723.7,981.7 L725.0,981.0 L726.6,980.6 L726.7,978.8 L727.8,977.8 L729.2,977.6 L729.3,976.0 L730.5,975.5 L731.8,975.0 L732.0,973.5 L732.7,972.4 L734.3,972.1 L734.9,970.9 L735.3,969.6 L737.0,969.5 L737.8,968.6 L738.0,967.1 L739.2,966.7 L740.5,966.5 L740.7,964.6 L742.2,964.1 L743.6,963.5 L743.9,961.9 L745.4,961.5 L746.5,960.9 L746.9,959.4 L748.4,959.5 L749.2,958.8 L749.6,957.3 L751.6,957.6 L752.6,956.3 L753.8,955.4 L755.3,956.4 L756.6,955.5 L758.0,955.8 L758.6,957.0 L760.0,956.7 L761.1,957.1 L761.6,958.6 L762.8,959.2 L764.4,959.4 L765.1,960.8 L765.5,962.4 L767.3,962.7 L768.2,963.8 L768.4,965.1 L769.5,965.7 L770.5,966.4 L770.0,968.0 L771.1,968.7 L772.4,969.3 L772.0,970.9 L772.6,972.1 L774.1,972.7 L773.9,974.3 L774.2,975.7 L776.0,976.4 L775.9,978.0 L776.0,979.2 L777.3,979.9 L777.9,980.9 L777.5,982.5 L778.8,983.2 L779.6,984.3 L779.2,985.9 L780.1,986.9 L781.4,987.7 L781.2,989.3 L781.8,990.5 L783.1,991.3 L782.8,992.9 L783.4,994.0 L784.9,994.6 L785.0,995.9 L784.9,997.3 L786.4,997.7 L786.8,999.1 L787.0,1000.7 L788.5,1001.4 L789.0,1002.7 L789.3,1004.1 L790.9,1004.6 L791.1,1006.0 L791.5,1007.3 L792.9,1007.7 L793.2,1009.0 L793.7,1010.0 L794.9,1010.3 L795.3,1011.4 L795.4,1012.6 L797.6,1012.8 L798.5,1014.1 L799.1,1015.6 L800.9,1015.0 L801.8,1015.7 L802.8,1016.8 L804.0,1015.5 L805.1,1015.7 L806.5,1016.1 L807.1,1014.5 L808.7,1014.5 L810.0,1013.7 L810.4,1011.9 L812.1,1011.0 L813.1,1010.6 L812.9,1009.3 L813.5,1008.5 L814.9,1008.0 L814.3,1006.4 L815.2,1005.6 L816.2,1004.7 L816.0,1003.2 L816.7,1002.1 L818.1,1001.3 L817.9,999.7 L818.6,998.5 L819.9,997.6 L819.9,996.0 L819.9,994.8 L821.2,994.2 L821.5,993.1 L821.1,991.7 L822.6,991.1 L823.2,990.0 L822.6,988.4 L823.8,987.6 L824.5,986.5 L824.3,985.1 L825.2,984.1 L826.3,983.1 L826.1,981.7 L826.5,980.5 L828.1,979.8 L827.7,978.3 L827.9,977.0 L829.3,976.3 L829.6,975.1 L829.4,973.7 L830.9,973.0 L831.5,971.9 L831.5,970.3 L833.0,969.6 L833.5,968.4 L833.4,966.8 L834.7,966.0 L836.0,965.3 L835.6,963.4 L836.7,962.6 L837.9,961.9 L838.0,960.5 L838.5,959.3 L840.1,959.0 L840.2,957.6 L840.3,956.4 L841.9,956.2 L842.2,955.1 L842.5,953.4 L844.3,953.0 L844.7,951.5 L845.2,950.3 L846.9,950.2 L847.3,948.9 L847.7,947.8 L849.2,947.7 L849.4,946.4 L849.9,945.5 L851.5,945.4 L851.9,944.0 L852.3,943.0 L853.7,943.0 L853.7,941.8 L854.0,940.7 L855.7,940.4 L856.6,938.9 L857.6,936.7 L858.9,936.6 L859.5,935.8 L859.4,934.4 L860.7,934.0 L861.8,933.3 L861.8,931.6 L863.4,931.1 L864.1,929.9 L864.4,928.3 L865.8,927.6 L866.9,926.6 L866.9,924.7 L868.5,924.0 L869.7,923.1 L869.8,921.3 L871.1,920.5 L872.5,919.9 L872.5,918.1 L873.6,917.3 L875.0,916.8 L875.1,915.4 L875.7,914.5 L877.1,914.3 L877.0,913.1 L877.1,912.1 L878.0,912.0" stroke="#7c84ff"/>
<path d="M159.0,937.0 L159.9,936.7 L159.7,935.1 L161.1,934.5 L162.4,933.7 L162.7,931.9 L164.1,931.1 L165.4,930.4 L165.6,928.9 L166.3,927.8 L168.1,927.7 L168.3,926.2 L168.8,924.9 L170.4,924.7 L171.2,923.8 L171.6,922.3 L173.4,922.4 L174.9,922.3 L175.9,920.6 L177.4,920.9 L178.9,921.2 L179.9,920.1 L181.3,920.0 L182.6,920.6 L183.7,919.6 L184.8,919.4 L185.9,920.8 L187.1,920.3 L188.4,919.9 L189.4,920.9 L190.5,921.6 L192.1,921.2 L193.2,921.5 L194.0,922.8 L195.5,922.7 L196.8,923.0 L197.6,924.4 L199.1,924.1 L200.1,924.7 L201.1,926.1 L202.5,926.6 L204.2,926.5 L204.7,928.3 L205.9,928.7 L207.3,928.5 L208.2,929.5 L209.4,929.7 L210.7,928.7 L212.0,930.1 L213.3,929.8 L214.5,928.7 L216.0,929.3 L217.5,929.5 L218.7,928.3 L220.0,928.3 L221.4,928.8 L222.5,927.8 L223.6,927.5 L225.1,928.1 L225.8,926.6 L226.9,926.3 L228.3,926.4 L228.8,925.2 L229.4,924.0 L231.1,924.1 L232.0,923.0 L232.6,922.0 L234.2,922.0 L234.8,920.8 L235.5,919.6 L237.2,919.7 L238.0,918.5 L238.6,917.1 L240.2,917.3 L241.3,916.4 L242.0,914.9 L243.6,914.7 L244.8,913.9 L245.5,912.5 L246.9,912.4 L248.2,912.6 L249.3,911.2 L250.6,911.4 L251.8,912.0 L253.4,911.3 L255.0,911.8 L255.9,912.8 L257.1,912.2 L258.4,912.0 L259.6,913.0 L260.9,912.6 L262.4,912.5 L263.4,913.6 L264.8,913.6 L266.4,913.6 L266.6,915.5 L267.6,915.9 L269.1,915.8 L269.3,917.0 L269.7,918.1 L271.0,918.3 L271.3,919.5 L271.7,920.6 L272.9,921.4 L273.9,922.6 L273.4,924.5 L274.5,926.1 L275.3,927.9 L274.6,929.0 L275.6,929.7 L276.2,930.6 L275.2,931.9 L276.1,932.8 L276.7,933.8 L275.9,935.1 L276.9,936.1 L277.7,937.2 L276.9,938.6 L276.8,939.9 L278.1,941.0 L277.3,942.5 L277.8,943.8 L278.5,945.0 L278.0,946.4 L278.6,947.7 L279.5,949.0 L278.3,950.5 L279.1,951.7 L279.8,953.0 L279.0,954.4 L279.7,955.7 L280.2,956.9 L279.5,958.3 L280.5,959.4 L280.7,960.6 L280.0,961.9 L280.8,962.9 L281.5,963.9 L280.7,965.5 L281.4,966.8 L282.3,968.0 L281.5,969.5 L282.3,970.7 L283.2,971.9 L282.4,973.4 L282.5,974.7 L283.9,975.7 L283.0,977.2 L283.3,978.4 L284.7,979.3 L284.3,980.7 L284.0,982.0 L285.2,982.9 L284.9,984.2 L285.1,985.4 L286.0,986.3 L285.3,987.7 L286.1,988.7 L287.2,989.6 L286.5,991.0 L286.7,992.1 L287.8,993.2 L287.9,994.6 L287.3,996.1 L288.9,997.1 L289.3,998.3 L288.9,999.8 L290.2,1000.7 L290.4,1002.0 L290.0,1003.5 L291.3,1004.3 L291.4,1005.6 L291.3,1007.0 L292.4,1007.8 L293.3,1008.7 L292.7,1010.2 L293.5,1011.1 L294.5,1011.9 L294.1,1013.3 L294.7,1014.2 L296.3,1014.9 L296.1,1016.7 L296.9,1017.8 L298.2,1018.7 L298.1,1020.4 L299.0,1021.3 L300.6,1021.8 L300.5,1023.4 L301.4,1024.3 L302.7,1024.7 L302.6,1026.2 L303.6,1026.8 L304.8,1026.9 L304.6,1028.5 L306.4,1029.2 L308.1,1029.5 L308.9,1031.1 L310.3,1031.2 L311.4,1029.9 L313.0,1030.0 L314.0,1030.0 L313.9,1028.4 L315.0,1028.1 L316.2,1027.7 L316.1,1026.0 L317.2,1025.3 L318.8,1024.8 L318.5,1023.0 L319.6,1022.1 L321.1,1021.5 L320.9,1019.7 L322.1,1018.9 L323.3,1018.2 L323.3,1016.7 L324.9,1016.4 L325.9,1015.6 L326.1,1014.0 L327.4,1013.4 L328.6,1012.7 L328.8,1011.1 L329.9,1010.3 L331.5,1010.1 L331.6,1008.5 L332.3,1007.5 L334.0,1007.8 L334.3,1006.5 L334.8,1005.6 L336.7,1005.5 L338.0,1005.0 L339.2,1004.1 L340.5,1004.8 L341.8,1004.9 L342.8,1003.6 L344.0,1003.5 L345.3,1003.5 L345.7,1002.0 L346.9,1001.6 L348.3,1001.4 L348.6,999.7 L349.9,999.1 L351.4,998.4 L351.3,997.0 L352.0,996.1 L353.3,995.5 L353.5,994.2 L353.6,992.8 L355.3,992.2 L355.3,990.7 L355.6,989.4 L356.9,988.6 L357.0,987.1 L357.5,985.9 L359.0,985.4 L358.9,983.9 L359.4,982.6 L360.8,981.9 L361.3,980.5 L361.6,979.1 L363.0,978.3 L363.8,977.3 L363.8,975.7 L365.0,975.1 L366.3,974.8 L366.1,973.3 L366.8,972.7 L368.6,972.8 L369.5,971.5 L370.8,971.6 L371.6,972.9 L373.2,972.8 L373.9,973.5 L374.3,974.9 L375.9,975.1 L376.7,976.3 L376.8,978.0 L378.2,978.8 L379.2,979.8 L379.0,981.4 L380.5,981.8 L381.3,982.8 L381.1,984.3 L381.8,985.4 L383.3,985.9 L383.6,987.2 L383.8,988.6 L385.1,988.9 L386.2,989.9 L386.9,991.3 L388.7,991.4 L389.6,992.6 L390.5,993.9 L392.1,993.2 L393.0,993.8 L394.4,994.7 L395.3,993.3 L396.4,992.8 L398.0,992.4 L398.7,990.7 L399.7,990.2 L401.0,989.9 L401.3,988.4 L402.3,987.7 L403.6,987.0 L403.8,985.3 L405.4,985.0 L406.3,984.0 L406.7,982.7 L408.2,982.2 L409.1,981.3 L409.6,979.9 L411.1,979.5 L412.0,978.5 L412.6,977.2 L414.1,977.0 L415.2,976.3 L415.9,974.9 L417.3,974.8 L418.7,974.6 L419.5,973.2 L420.8,972.8 L422.3,973.0 L423.5,971.9 L425.0,972.1 L426.2,972.2 L427.3,971.4 L428.6,971.7 L429.9,972.8 L431.3,971.9 L432.7,971.6 L433.9,972.6 L435.3,972.5 L436.6,972.2 L437.7,973.5 L439.0,973.0 L440.5,972.5 L441.5,973.7 L442.6,974.3 L443.9,973.7 L445.0,974.3 L445.9,975.3 L447.4,974.8 L448.7,975.3 L449.9,976.4 L451.1,976.2 L452.3,975.8 L453.3,976.9 L454.5,976.8 L455.9,976.1 L457.0,977.4 L458.2,977.9 L459.7,977.0 L460.8,978.1 L462.1,978.6 L463.6,978.4 L464.7,979.5 L465.9,980.2 L467.3,980.0 L467.7,981.4 L468.5,982.2 L470.0,982.2 L470.1,983.9 L471.1,984.5 L472.6,984.8 L472.9,986.3 L473.8,987.2 L475.5,987.4 L475.2,989.4 L476.8,989.8 L477.9,990.6 L477.9,992.4 L479.3,993.0 L480.7,993.6 L480.8,995.3 L481.9,996.1 L483.1,996.6 L483.4,997.9 L484.0,999.0 L485.5,999.3 L485.6,1000.9 L486.2,1002.0 L487.8,1002.4 L488.0,1003.8 L488.4,1005.1 L489.9,1005.7 L490.4,1006.9 L490.5,1008.4 L492.1,1008.8 L493.2,1009.5 L493.0,1011.2 L493.9,1012.1 L495.4,1012.4 L495.7,1013.6 L495.9,1015.0 L497.6,1014.9 L498.1,1015.9 L498.7,1017.4 L500.4,1017.5 L501.3,1018.5 L502.0,1019.8 L503.7,1019.4 L504.5,1020.5 L505.2,1021.6 L506.7,1021.4 L507.5,1022.5 L508.3,1023.5 L510.0,1023.0 L510.9,1023.9 L511.6,1025.2 L513.2,1024.9 L514.1,1025.8 L514.7,1027.2 L516.2,1027.1 L517.1,1027.8 L517.8,1029.0 L519.2,1029.1 L520.2,1029.8 L520.7,1031.1 L522.2,1031.1 L523.4,1031.6 L523.8,1033.0 L525.0,1033.6 L526.3,1034.0 L526.6,1035.7 L528.2,1035.9 L529.2,1036.8 L529.6,1038.4 L531.1,1038.4 L531.6,1039.5 L531.7,1041.0 L533.2,1041.3 L534.2,1042.1 L534.0,1043.8 L535.4,1044.3 L536.3,1045.2 L536.2,1046.9 L537.5,1047.6 L539.1,1048.0 L539.0,1049.7 L539.5,1050.9 L541.1,1051.3 L541.2,1052.8 L541.8,1053.9 L543.4,1054.2 L543.8,1055.5 L544.1,1056.7 L545.5,1056.9 L546.2,1057.8 L546.4,1059.6 L548.0,1059.9 L549.4,1060.4 L549.7,1062.0 L550.8,1062.7 L552.4,1062.9 L552.7,1064.6 L553.8,1065.1 L555.3,1065.2 L556.0,1066.3 L556.7,1067.5 L558.3,1067.2 L559.1,1068.1 L559.7,1069.3 L561.2,1069.1 L561.9,1070.1 L563.0,1070.9 L564.5,1070.9 L565.2,1072.3 L566.3,1073.0 L567.9,1072.8 L568.8,1073.7 L569.9,1074.4 L571.3,1074.1 L572.3,1075.1 L573.3,1075.9 L574.7,1074.8 L575.6,1076.4 L576.8,1076.3 L578.0,1075.6 L579.2,1076.2 L580.4,1076.0 L581.4,1075.2 L582.7,1075.3 L584.0,1075.4 L584.8,1073.9 L586.3,1074.2 L587.5,1073.9 L588.2,1072.3 L589.9,1072.8 L591.1,1072.4 L591.7,1070.9 L593.0,1070.7 L594.4,1070.5 L594.8,1069.0 L595.9,1068.7 L597.2,1068.4 L597.3,1066.8 L598.4,1066.2 L599.7,1065.8 L600.0,1064.5 L600.6,1063.4 L602.1,1063.1 L602.6,1062.0 L603.1,1060.7 L604.5,1060.2 L605.3,1059.2 L605.4,1057.5 L607.0,1057.4 L607.9,1056.7 L608.1,1055.2 L609.0,1054.4 L610.4,1054.0 L610.4,1052.3 L611.7,1051.8 L612.9,1051.2 L612.9,1049.5 L613.8,1048.6 L615.6,1048.5 L615.6,1046.8 L616.4,1045.8 L618.0,1045.5 L617.9,1043.6 L619.0,1042.9 L620.6,1042.5 L620.7,1041.0 L621.1,1039.8 L622.8,1039.5 L623.0,1038.1 L623.5,1036.8 L625.4,1036.6 L625.3,1034.9 L625.9,1033.6 L627.7,1033.4 L627.8,1031.8 L628.3,1030.5 L629.9,1030.2 L630.2,1028.9 L630.5,1027.7 L632.0,1027.4 L632.3,1026.2 L632.5,1025.1 L633.8,1024.9 L633.9,1023.9 L634.8,1022.2 L636.5,1022.1 L637.1,1021.3 L637.1,1020.2 L638.0,1019.9 L639.5,1019.7 L639.7,1017.7 L640.4,1017.1 L641.6,1016.7 L641.8,1015.4 L642.6,1014.6 L644.0,1014.1 L644.1,1012.4 L644.9,1011.4 L646.4,1010.9 L646.9,1009.5 L647.5,1008.3 L649.3,1008.0 L649.4,1006.4 L650.1,1005.4 L651.7,1005.3 L652.0,1004.0 L652.5,1002.6 L654.3,1002.8 L654.9,1001.4 L655.9,1000.8 L657.4,1000.9 L657.8,999.4 L659.0,999.1 L660.3,999.0 L660.9,997.7 L661.9,997.1 L663.5,997.4 L663.7,995.7 L664.8,995.0 L666.5,994.9 L666.9,993.4 L667.5,992.1 L669.0,991.6 L669.4,990.2 L670.1,989.0 L671.7,988.7 L672.4,987.8 L672.9,986.6 L674.4,986.9 L674.9,985.8 L676.2,985.4 L677.4,986.3 L678.6,985.9 L680.0,985.9 L680.9,987.3 L682.4,987.2 L683.6,987.7 L684.6,989.0 L686.0,989.0 L687.3,988.8 L688.1,990.3 L689.5,990.2 L690.9,990.2 L691.8,991.5 L693.1,991.7 L694.6,991.1 L695.5,992.5 L696.6,993.2 L698.2,992.2 L699.2,993.5 L700.3,994.2 L701.9,993.7 L703.0,994.5 L704.1,995.4 L705.6,994.7 L706.8,995.1 L707.7,996.4 L709.0,995.6 L710.1,995.6 L711.4,997.0 L712.9,996.3 L714.1,995.6 L715.4,996.4 L716.7,995.9 L717.7,994.5 L719.0,994.7 L719.7,994.0 L719.9,992.6 L721.5,992.5 L722.0,991.4 L722.4,990.0 L724.0,989.7 L724.4,988.2 L725.0,987.0 L726.7,986.5 L726.8,984.8 L727.8,983.8 L729.2,983.6 L729.4,982.1 L730.1,981.1 L731.4,980.6 L732.0,979.4 L732.4,978.0 L733.7,977.4 L734.8,976.5 L734.9,974.9 L736.1,974.3 L737.5,973.8 L737.2,972.0 L738.4,971.5 L739.9,971.3 L739.6,969.6 L741.1,969.0 L742.5,968.5 L742.7,966.6 L744.2,966.4 L745.6,966.2 L746.1,964.9 L747.0,964.1 L748.4,964.3 L748.9,963.1 L749.9,962.8 L751.8,963.0 L752.6,961.4 L753.9,960.9 L755.4,961.5 L756.6,960.8 L758.2,960.3 L758.8,961.8 L759.8,961.9 L761.3,961.7 L761.9,963.0 L762.8,963.9 L764.3,964.1 L764.9,965.4 L765.8,966.4 L767.7,966.4 L768.0,968.0 L768.5,969.0 L769.9,969.2 L770.0,970.5 L770.4,971.5 L771.6,972.0 L772.3,972.9 L772.1,974.3 L773.2,975.1 L774.3,975.9 L774.2,977.6 L775.3,978.6 L776.3,979.8 L775.9,981.2 L776.9,981.8 L777.6,982.7 L777.4,984.1 L778.5,984.9 L779.4,985.8 L778.8,987.4 L779.7,988.4 L780.7,989.4 L780.6,990.9 L781.2,992.0 L782.5,992.9 L782.2,994.5 L782.6,995.7 L784.2,996.3 L783.7,998.0 L784.2,999.0 L785.5,999.8 L785.2,1001.2 L785.9,1002.0 L787.4,1002.9 L786.8,1004.8 L788.0,1005.8 L789.1,1006.8 L788.8,1008.6 L790.5,1009.1 L790.8,1010.5 L791.2,1011.9 L792.6,1012.5 L793.0,1013.6 L793.1,1015.0 L794.3,1015.6 L795.1,1016.3 L794.9,1017.7 L795.9,1018.1 L797.7,1018.8 L798.2,1020.6 L799.5,1021.2 L800.9,1020.8 L801.7,1022.2 L802.9,1022.1 L804.0,1021.2 L805.2,1022.1 L806.3,1022.2 L807.3,1021.1 L808.8,1021.5 L809.8,1020.5 L810.6,1019.1 L812.3,1018.3 L812.7,1017.4 L812.5,1016.2 L814.1,1015.8 L814.1,1014.6 L813.9,1013.3 L815.2,1012.6 L815.5,1011.3 L815.2,1009.8 L817.0,1009.1 L816.9,1007.7 L816.8,1006.2 L818.3,1005.3 L818.5,1003.9 L818.4,1002.3 L819.5,1001.3 L820.7,1000.3 L819.8,998.7 L820.8,997.9 L822.1,997.2 L821.3,995.6 L822.0,994.6 L823.2,993.9 L823.1,992.5 L823.4,991.3 L824.7,990.5 L824.4,989.0 L825.0,987.9 L826.2,987.1 L826.0,985.6 L826.6,984.6 L827.7,983.7 L827.9,982.4 L828.0,981.1 L829.4,980.4 L829.6,979.1 L829.3,977.7 L830.9,977.1 L831.4,976.0 L831.3,974.5 L832.8,973.8 L833.5,972.7 L833.2,971.1 L834.2,970.2 L835.2,969.3 L834.9,967.6 L836.1,966.8 L837.2,966.0 L836.6,964.2 L838.1,963.7 L839.0,962.8 L838.8,961.3 L839.8,960.6 L840.8,959.9 L840.5,958.4 L841.6,957.9 L842.4,957.2 L842.5,955.3 L844.0,954.5 L845.2,953.6 L845.3,951.9 L846.6,951.3 L847.5,950.5 L847.4,948.8 L848.9,948.6 L849.7,947.9 L849.8,946.5 L851.0,946.0 L852.4,945.4 L852.0,943.6 L853.5,943.7 L854.0,943.0 L854.2,941.8 L855.8,941.4 L856.9,940.1 L857.7,937.8 L858.5,937.3 L859.6,937.0 L859.6,935.6 L860.1,934.6 L861.7,934.3 L862.1,933.0 L862.8,931.9 L864.2,931.3 L864.8,930.0 L865.2,928.4 L867.1,928.1 L867.5,926.6 L867.9,925.0 L869.7,924.7 L870.5,923.4 L870.7,921.8 L872.1,921.2 L873.2,920.4 L873.4,918.9 L874.3,918.1 L875.7,917.8 L875.5,916.2 L876.4,915.7 L877.7,915.6 L877.2,914.2 L878.0,914.0" stroke="#6870f8"/>
<path d="M159.5,918.3 L160.4,918.2 L161.1,917.0 L162.6,917.0 L164.1,916.6 L165.0,914.9 L166.6,914.5 L168.2,914.4 L168.9,912.8 L170.3,912.9 L171.8,913.0 L172.8,911.7 L174.0,911.2 L175.6,911.6 L176.8,910.9 L177.9,910.1 L179.3,910.5 L180.6,910.4 L181.6,909.1 L183.0,909.3 L184.4,909.9 L185.5,908.6 L186.7,908.3 L188.1,909.0 L189.2,908.2 L190.5,907.8 L191.8,908.5 L192.9,907.4 L194.2,907.2 L195.6,907.8 L196.7,907.1 L197.9,906.4 L199.3,907.4 L200.5,906.7 L201.7,906.0 L203.1,906.8 L204.2,906.0 L205.4,905.4 L206.8,906.4 L208.0,905.3 L209.2,904.6 L210.6,905.7 L211.8,905.1 L212.9,904.2 L214.3,905.4 L215.5,904.7 L216.7,904.2 L218.0,905.2 L219.3,904.4 L220.6,904.0 L221.9,904.8 L223.2,904.2 L224.5,903.6 L225.8,904.5 L226.9,904.0 L228.0,903.6 L229.5,904.5 L230.6,903.3 L231.8,903.4 L233.0,903.9 L234.0,902.9 L235.1,902.2 L236.7,902.7 L237.4,901.1 L238.7,900.7 L240.2,900.9 L241.1,899.4 L242.6,899.1 L243.9,898.5 L244.7,897.0 L246.0,896.6 L247.6,896.7 L248.5,895.5 L249.4,894.5 L251.0,895.0 L252.3,894.0 L253.3,892.7 L255.1,893.3 L256.3,893.3 L257.4,892.0 L258.9,892.5 L260.2,892.7 L261.1,891.8 L262.7,891.3 L264.0,891.8 L265.2,892.1 L266.8,891.8 L267.7,893.1 L268.7,894.2 L270.6,895.1 L270.8,896.2 L271.2,897.3 L272.5,897.9 L273.3,899.1 L273.0,900.8 L273.5,901.8 L274.8,902.6 L274.2,904.1 L274.5,905.4 L275.6,906.5 L275.1,908.0 L275.1,909.4 L276.3,910.6 L275.5,911.9 L275.8,913.0 L276.8,914.0 L276.5,915.2 L276.0,916.5 L277.0,917.6 L277.0,919.0 L276.4,920.6 L277.6,922.1 L277.6,923.1 L277.0,924.2 L277.5,925.3 L278.3,926.4 L276.9,927.7 L278.0,928.9 L278.3,930.1 L277.2,931.5 L278.1,932.8 L278.8,934.0 L277.7,935.4 L278.3,936.6 L279.2,937.8 L277.9,939.1 L278.5,940.2 L279.5,941.2 L278.5,942.8 L278.6,944.1 L280.0,945.3 L279.1,946.7 L279.1,948.0 L280.0,949.1 L279.7,950.4 L279.4,951.7 L280.2,952.8 L280.3,954.1 L279.6,955.4 L280.4,956.6 L281.1,957.8 L279.9,959.3 L281.0,960.4 L281.1,961.7 L280.4,963.1 L281.5,964.3 L282.1,965.5 L281.4,966.9 L281.6,968.2 L283.0,969.3 L282.1,970.8 L282.1,972.1 L283.5,973.2 L282.8,974.6 L282.7,976.0 L284.0,977.1 L283.6,978.5 L283.2,979.9 L284.5,981.0 L284.4,982.4 L283.9,983.7 L284.7,984.9 L285.1,986.1 L284.2,987.4 L285.3,988.7 L285.6,990.0 L284.5,991.5 L285.5,992.7 L286.1,993.9 L285.3,995.3 L286.2,996.4 L286.7,997.6 L285.7,998.9 L286.7,1000.0 L287.0,1001.3 L286.3,1002.7 L287.1,1003.8 L287.8,1004.8 L287.4,1006.2 L288.2,1007.3 L288.9,1008.4 L288.2,1010.3 L289.7,1010.9 L290.4,1011.8 L289.7,1013.4 L290.6,1014.4 L291.9,1015.2 L291.6,1016.7 L291.9,1018.0 L293.3,1018.8 L293.4,1020.3 L293.4,1021.7 L294.9,1022.6 L295.1,1024.0 L294.9,1025.3 L296.7,1025.9 L296.0,1027.6 L296.4,1028.8 L297.8,1029.7 L297.3,1031.3 L297.9,1032.4 L299.3,1033.3 L299.0,1034.8 L298.8,1036.2 L300.3,1036.9 L300.2,1038.1 L300.1,1039.3 L301.4,1039.9 L301.9,1041.6 L301.8,1043.4 L302.6,1044.7 L303.9,1045.5 L303.4,1047.0 L304.0,1047.9 L305.3,1047.3 L305.9,1048.0 L307.0,1048.4 L307.6,1047.1 L308.6,1046.2 L310.3,1045.7 L310.8,1043.9 L311.5,1043.2 L312.9,1042.9 L312.8,1041.4 L312.9,1040.0 L314.4,1039.5 L315.3,1038.5 L315.2,1036.9 L316.2,1036.0 L317.3,1035.1 L317.1,1033.5 L318.1,1032.7 L319.5,1032.4 L319.7,1030.8 L320.5,1029.6 L322.2,1029.4 L322.4,1027.8 L323.0,1026.6 L324.6,1026.5 L325.0,1025.2 L325.8,1024.3 L327.3,1024.4 L328.3,1023.4 L328.9,1021.9 L330.7,1022.2 L331.5,1021.1 L332.5,1020.2 L334.1,1021.1 L334.9,1019.3 L336.4,1019.9 L337.7,1020.5 L339.2,1019.4 L340.5,1020.3 L341.8,1020.8 L342.9,1019.7 L343.8,1019.3 L345.3,1019.5 L345.2,1017.8 L346.3,1017.4 L347.7,1016.8 L347.5,1014.9 L349.5,1014.3 L349.6,1013.2 L349.8,1012.1 L351.5,1011.8 L351.2,1010.3 L351.5,1009.1 L353.2,1008.6 L353.4,1007.2 L353.5,1005.7 L354.4,1004.7 L355.8,1003.9 L355.4,1002.1 L356.5,1001.2 L357.5,1000.2 L356.9,998.6 L358.1,997.7 L359.1,996.7 L358.9,995.1 L360.0,994.2 L361.0,993.1 L360.5,991.3 L361.6,990.3 L363.0,989.6 L362.6,987.9 L363.5,987.0 L364.7,986.2 L364.2,984.7 L364.9,984.0 L366.2,982.8 L366.3,981.0 L367.5,980.1 L368.5,979.2 L368.5,977.7 L369.7,977.2 L370.8,977.0 L370.8,975.7 L372.3,974.7 L373.6,975.8 L375.1,975.4 L376.2,976.0 L376.3,977.7 L378.0,978.5 L379.2,979.8 L379.2,981.2 L380.5,981.7 L381.4,982.6 L381.1,984.4 L382.5,985.1 L383.9,985.8 L383.9,987.4 L384.8,988.2 L386.3,988.6 L386.9,990.0 L387.6,991.2 L389.1,991.4 L390.1,992.2 L390.9,993.2 L392.0,992.9 L393.0,992.3 L394.5,992.9 L395.4,991.9 L396.3,990.7 L398.2,990.6 L399.1,989.1 L399.4,987.9 L401.0,988.0 L401.3,986.6 L401.9,985.5 L403.4,985.2 L403.6,983.7 L404.0,982.4 L405.6,982.1 L406.6,981.3 L406.7,979.8 L408.0,979.2 L408.9,978.5 L408.9,976.8 L410.4,976.6 L411.3,975.8 L411.5,974.3 L412.6,973.7 L413.8,973.1 L413.8,971.5 L415.3,971.2 L415.9,970.2 L416.1,968.7 L418.0,968.6 L418.1,967.1 L418.7,965.9 L420.2,965.6 L420.6,964.4 L421.1,963.2 L422.5,963.0 L423.2,962.2 L423.9,960.7 L425.3,960.5 L426.8,960.6 L427.4,958.9 L428.7,958.8 L430.0,958.9 L430.8,957.5 L432.4,957.6 L433.8,957.5 L434.9,956.2 L436.3,956.2 L437.7,956.5 L439.0,955.8 L440.3,955.9 L441.7,956.4 L443.0,955.5 L444.3,956.5 L445.6,956.8 L447.3,956.3 L447.9,957.7 L448.9,958.5 L450.5,958.7 L451.3,959.9 L452.0,961.2 L453.5,961.4 L454.5,962.1 L454.7,963.4 L456.4,963.6 L457.1,964.2 L457.4,966.5 L458.7,966.5 L459.2,967.3 L459.3,968.6 L460.8,968.8 L461.0,970.1 L461.2,971.5 L462.7,972.1 L463.6,973.1 L463.2,975.0 L464.9,975.5 L465.9,976.5 L465.4,978.3 L466.4,979.1 L467.9,979.7 L467.4,981.3 L468.2,982.3 L469.4,983.1 L469.0,984.8 L469.8,985.8 L470.9,986.7 L470.4,988.4 L471.7,989.3 L472.5,990.3 L472.2,992.0 L473.4,992.8 L474.3,993.8 L474.0,995.4 L475.4,996.0 L476.5,996.8 L476.1,998.5 L476.7,999.6 L478.4,1000.1 L478.5,1001.5 L478.6,1002.9 L480.1,1003.5 L480.9,1004.5 L480.9,1006.0 L482.3,1006.6 L483.0,1007.6 L482.7,1009.4 L484.1,1009.9 L485.3,1010.7 L485.0,1012.4 L486.1,1013.2 L487.2,1014.0 L487.0,1015.6 L488.0,1016.6 L489.2,1017.3 L489.1,1018.9 L490.0,1019.9 L491.3,1020.5 L491.0,1022.2 L492.1,1023.0 L493.2,1023.7 L493.2,1025.1 L493.8,1026.1 L495.1,1026.9 L495.4,1028.3 L495.6,1029.7 L497.1,1030.4 L497.2,1031.9 L497.2,1033.4 L498.7,1034.0 L499.5,1035.0 L499.2,1036.6 L500.0,1037.5 L501.1,1038.1 L500.9,1039.5 L501.9,1040.1 L503.4,1040.7 L503.9,1042.2 L504.8,1043.1 L506.3,1043.0 L506.8,1044.5 L507.8,1045.0 L509.3,1044.9 L510.0,1046.0 L510.6,1047.3 L512.3,1047.1 L513.3,1047.9 L513.7,1049.5 L515.4,1049.4 L516.3,1050.2 L516.8,1051.5 L518.2,1051.8 L519.3,1052.6 L518.9,1054.3 L520.3,1054.8 L521.1,1055.7 L520.9,1057.3 L522.2,1058.4 L523.5,1059.7 L523.3,1061.0 L523.4,1062.0 L525.2,1062.2 L525.0,1063.7 L525.5,1064.8 L526.9,1065.3 L526.7,1066.9 L527.5,1067.9 L528.8,1068.6 L528.5,1070.3 L529.2,1071.5 L530.7,1072.1 L530.7,1073.6 L530.8,1075.1 L532.5,1075.8 L532.7,1077.0 L532.6,1078.3 L533.6,1079.2 L534.5,1080.2 L533.8,1081.8 L535.2,1082.6 L535.5,1083.8 L535.3,1085.2 L536.7,1086.1 L537.0,1087.3 L536.7,1088.8 L537.8,1089.8 L538.4,1091.0 L538.2,1092.4 L538.9,1093.6 L540.0,1094.6 L539.8,1096.1 L540.2,1097.2 L541.4,1098.1 L541.1,1099.5 L541.2,1100.7 L542.4,1101.7 L542.2,1103.1 L542.2,1104.4 L543.5,1105.3 L543.8,1106.6 L543.3,1108.1 L545.0,1108.8 L544.7,1110.3 L544.8,1111.6 L546.0,1112.5 L546.1,1113.7 L545.7,1115.2 L547.5,1115.7 L547.5,1117.0 L547.6,1118.2 L549.1,1119.0 L549.6,1120.2 L549.4,1122.0 L550.9,1122.7 L552.0,1123.6 L552.0,1125.3 L553.0,1126.3 L554.5,1126.9 L554.5,1128.5 L555.8,1129.1 L556.8,1129.9 L556.8,1131.5 L558.4,1131.5 L558.8,1132.6 L559.0,1133.7 L560.3,1133.6 L561.5,1135.2 L562.3,1136.7 L563.8,1136.1 L564.7,1136.8 L565.7,1137.5 L567.0,1136.5 L568.2,1136.7 L569.4,1137.9 L570.7,1136.9 L571.9,1136.5 L573.4,1137.2 L574.6,1136.4 L575.8,1135.4 L577.3,1136.0 L578.2,1135.1 L578.9,1133.8 L580.6,1134.2 L581.7,1133.5 L582.3,1132.0 L583.7,1131.6 L585.3,1131.5 L585.9,1129.9 L586.6,1128.9 L588.2,1128.9 L588.6,1127.5 L589.4,1126.6 L590.9,1126.4 L591.5,1125.1 L591.9,1123.7 L593.6,1123.5 L594.1,1122.1 L594.6,1120.7 L596.4,1120.3 L596.8,1119.3 L596.9,1117.9 L598.7,1117.8 L598.7,1116.4 L599.1,1115.3 L600.7,1115.1 L600.9,1113.8 L601.0,1112.3 L602.8,1112.1 L602.9,1110.6 L603.4,1109.4 L605.1,1108.9 L604.7,1107.0 L605.7,1105.8 L607.2,1105.4 L607.2,1104.1 L607.3,1102.8 L608.8,1102.2 L609.2,1101.0 L609.2,1099.5 L610.5,1098.7 L611.0,1097.4 L610.8,1095.7 L612.7,1095.2 L612.8,1093.7 L612.9,1092.2 L614.3,1091.4 L614.8,1090.2 L614.5,1088.6 L616.3,1088.1 L616.6,1087.0 L616.2,1085.4 L617.9,1085.1 L618.3,1084.2 L618.3,1082.3 L619.8,1081.5 L620.8,1080.6 L620.8,1079.0 L621.6,1078.1 L623.0,1077.7 L622.7,1076.1 L623.3,1075.3 L624.7,1075.0 L624.6,1073.6 L625.1,1072.7 L626.7,1072.5 L626.4,1070.6 L627.2,1069.6 L628.5,1068.9 L628.3,1067.3 L629.1,1066.4 L630.5,1065.8 L630.1,1064.1 L631.2,1063.2 L632.4,1062.3 L632.2,1060.8 L633.3,1060.3 L634.1,1059.5 L633.8,1058.0 L635.1,1057.5 L636.1,1056.8 L635.9,1055.2 L636.7,1054.3 L638.2,1053.8 L638.2,1052.2 L638.8,1050.9 L640.5,1050.3 L640.2,1048.9 L640.8,1048.0 L642.2,1047.6 L642.1,1046.2 L642.8,1045.2 L644.2,1044.7 L643.8,1043.0 L644.9,1042.2 L646.4,1041.7 L646.1,1039.9 L647.2,1039.2 L648.4,1038.4 L648.0,1036.7 L649.3,1036.0 L650.4,1035.2 L650.3,1033.7 L651.1,1032.8 L652.4,1032.3 L652.6,1030.8 L653.2,1029.7 L654.7,1029.2 L655.4,1028.1 L655.1,1026.3 L656.7,1025.9 L657.6,1025.0 L657.5,1023.3 L658.7,1022.6 L659.9,1022.0 L659.8,1020.3 L661.0,1019.7 L662.3,1019.2 L662.1,1017.5 L663.4,1017.1 L664.4,1016.3 L664.3,1014.5 L665.9,1014.0 L667.0,1013.0 L667.2,1011.3 L668.2,1010.2 L670.0,1009.9 L670.1,1008.2 L670.7,1006.9 L672.4,1006.7 L673.0,1005.6 L673.4,1004.3 L674.5,1004.0 L675.5,1003.7 L675.8,1002.6 L677.3,1002.6 L678.4,1003.0 L679.8,1002.5 L680.4,1003.8 L681.4,1004.7 L683.1,1004.7 L683.9,1006.3 L684.9,1006.5 L686.3,1006.3 L686.7,1008.1 L688.3,1007.8 L689.4,1008.4 L690.1,1009.9 L691.8,1009.4 L692.9,1010.1 L693.5,1011.7 L695.1,1011.2 L696.2,1011.5 L697.0,1013.1 L698.4,1013.0 L699.7,1013.3 L700.4,1014.7 L701.7,1014.7 L702.9,1014.9 L703.5,1016.4 L705.1,1016.1 L706.1,1016.8 L706.7,1018.3 L708.4,1018.3 L709.8,1018.8 L710.3,1020.5 L711.8,1020.9 L713.1,1021.3 L713.7,1022.7 L714.9,1022.9 L716.0,1022.1 L717.3,1023.2 L718.5,1022.9 L719.2,1021.7 L720.7,1021.5 L722.0,1020.8 L722.2,1018.8 L723.8,1017.9 L725.3,1017.8 L725.2,1016.3 L725.6,1015.3 L727.2,1015.0 L727.7,1013.9 L727.7,1012.3 L729.2,1011.8 L730.1,1010.8 L730.0,1009.2 L731.1,1008.2 L732.4,1007.6 L732.2,1005.9 L732.9,1004.8 L734.4,1004.3 L734.7,1003.0 L735.0,1001.6 L736.8,1001.3 L737.0,999.9 L737.0,998.4 L738.4,997.8 L739.6,997.0 L739.3,995.2 L741.0,994.9 L741.5,993.8 L741.6,992.3 L742.7,991.8 L743.7,991.1 L743.7,989.7 L745.0,988.9 L746.1,988.0 L746.2,986.4 L747.5,985.8 L748.5,985.0 L748.7,983.6 L749.9,983.2 L750.9,982.7 L750.8,981.1 L752.0,981.0 L753.7,980.3 L754.1,978.4 L755.5,978.1 L756.8,978.7 L758.0,977.7 L758.9,978.2 L759.4,979.4 L761.1,978.8 L761.9,979.9 L762.5,981.2 L763.9,981.8 L765.2,982.5 L765.7,984.3 L766.5,984.9 L767.9,985.0 L768.0,986.4 L768.5,987.5 L770.2,987.4 L770.7,988.6 L770.9,990.1 L772.3,990.4 L773.3,991.3 L773.2,993.0 L774.5,993.7 L775.7,994.5 L775.6,996.2 L776.3,997.1 L777.7,997.6 L777.0,999.3 L778.3,999.9 L778.9,1001.0 L778.5,1002.5 L779.7,1003.4 L780.3,1004.5 L779.9,1006.0 L780.7,1007.1 L781.7,1008.2 L781.4,1009.7 L782.1,1010.9 L783.0,1012.0 L782.6,1013.6 L783.2,1014.8 L784.8,1015.7 L784.0,1017.2 L784.4,1018.3 L785.8,1019.0 L785.2,1020.5 L785.6,1021.6 L786.9,1022.4 L786.6,1023.8 L786.8,1025.1 L787.9,1026.0 L787.7,1027.4 L787.7,1028.7 L788.9,1029.6 L789.5,1030.7 L789.0,1032.2 L789.7,1033.2 L790.7,1034.2 L790.2,1035.7 L790.5,1036.8 L791.7,1037.7 L791.8,1038.9 L791.5,1040.2 L792.9,1041.1 L792.8,1042.6 L793.1,1044.0 L794.5,1045.0 L794.1,1046.7 L794.7,1048.0 L795.9,1049.1 L795.3,1050.8 L796.0,1052.0 L797.3,1052.9 L796.9,1054.5 L797.3,1055.6 L798.5,1056.5 L798.1,1057.8 L798.6,1058.7 L799.7,1059.3 L799.4,1060.4 L799.5,1061.4 L801.9,1062.9 L802.9,1063.0 L803.8,1063.5 L805.1,1064.0 L805.9,1062.9 L807.1,1063.0 L807.8,1062.3 L807.6,1060.8 L808.8,1060.1 L809.6,1058.9 L809.3,1057.1 L810.4,1056.1 L811.8,1055.1 L811.5,1053.3 L812.0,1052.0 L813.2,1051.2 L812.7,1049.5 L813.8,1048.5 L814.7,1047.4 L814.3,1045.9 L814.6,1044.7 L815.8,1043.7 L815.3,1042.2 L815.7,1041.0 L816.7,1040.0 L816.4,1038.5 L817.0,1037.4 L817.7,1036.3 L817.5,1034.9 L818.0,1033.7 L819.1,1032.8 L818.8,1031.4 L818.9,1030.1 L820.1,1029.3 L820.0,1028.0 L819.9,1026.8 L821.4,1025.8 L821.1,1024.5 L820.8,1023.3 L821.9,1022.5 L822.4,1021.3 L821.8,1019.6 L823.3,1018.1 L823.5,1017.2 L823.1,1015.9 L824.1,1015.0 L824.7,1013.9 L824.1,1012.4 L825.4,1011.5 L825.8,1010.2 L825.2,1008.5 L826.3,1007.4 L827.2,1006.3 L826.7,1004.7 L827.9,1003.7 L828.2,1002.4 L827.9,1000.9 L829.1,1000.1 L829.8,999.2 L829.6,997.6 L830.9,996.8 L831.5,995.7 L831.4,994.1 L833.0,993.8 L833.4,992.6 L833.5,991.2 L835.1,990.9 L835.9,990.1 L835.6,988.4 L837.3,988.2 L837.9,987.1 L837.9,985.7 L839.3,985.1 L840.2,984.2 L839.9,982.5 L841.2,981.8 L841.9,980.8 L841.7,979.2 L842.9,978.5 L844.3,977.9 L843.9,976.3 L844.7,975.4 L845.9,974.7 L845.7,973.3 L846.4,972.0 L848.0,971.4 L847.8,969.7 L848.6,968.5 L850.0,967.8 L849.9,966.2 L850.4,965.1 L851.6,964.3 L851.9,963.0 L851.7,961.6 L853.2,960.9 L853.7,959.7 L853.4,958.3 L854.3,957.4 L855.3,956.6 L854.5,955.0 L855.6,954.1 L856.6,953.2 L856.6,951.8 L856.8,950.6 L858.3,950.0 L858.5,948.7 L858.7,947.3 L860.6,946.9 L860.5,945.3 L860.5,943.6 L862.2,942.9 L862.9,942.0 L862.8,940.6 L864.3,940.0 L864.7,938.8 L864.7,937.3 L866.0,936.6 L866.8,935.6 L866.8,934.0 L868.3,933.4 L868.9,932.3 L868.7,930.7 L870.2,930.1 L870.9,929.1 L871.0,927.6 L872.4,926.8 L873.3,925.7 L873.1,923.9 L874.6,923.3 L875.5,922.3 L875.6,920.8 L876.6,920.2 L877.7,919.7 L877.0,918.2 L878.0,918.0" stroke="#4046d0"/>
<path d="M159.50,899.60C160.50,899.10 163.25,898.10 165.50,896.60C167.75,895.10 170.52,892.35 173.00,890.60C175.48,888.85 177.92,887.10 180.40,886.10C182.88,885.10 184.40,884.72 187.90,884.60C191.40,884.48 196.92,885.90 201.40,885.40C205.88,884.90 210.82,882.98 214.80,881.60C218.78,880.22 221.82,878.72 225.30,877.10C228.78,875.48 232.47,873.77 235.70,871.90C238.93,870.03 242.20,867.70 244.70,865.90C247.20,864.10 248.70,862.22 250.70,861.10C252.70,859.98 254.95,859.38 256.70,859.20C258.45,859.02 260.15,859.53 261.20,860.00C262.25,860.47 262.27,861.02 263.00,862.00C263.73,862.98 264.77,864.23 265.60,865.90C266.43,867.57 267.22,869.65 268.00,872.00C268.78,874.35 269.40,876.12 270.30,880.00C271.20,883.88 272.50,890.18 273.40,895.30C274.30,900.42 275.07,905.58 275.70,910.70C276.33,915.82 276.75,920.90 277.20,926.00C277.65,931.10 278.02,936.20 278.40,941.30C278.78,946.40 279.12,951.48 279.50,956.60C279.88,961.72 280.32,966.88 280.70,972.00C281.08,977.12 281.48,982.63 281.80,987.30C282.12,991.97 282.23,991.22 282.60,1000.00C282.97,1008.78 283.43,1026.67 284.00,1040.00C284.57,1053.33 285.17,1066.67 286.00,1080.00C286.83,1093.33 288.00,1109.33 289.00,1120.00C290.00,1130.67 290.83,1137.33 292.00,1144.00C293.17,1150.67 294.50,1154.00 296.00,1160.00C297.50,1166.00 299.50,1173.67 301.00,1180.00C302.50,1186.33 303.67,1193.17 305.00,1198.00C306.33,1202.83 307.67,1207.67 309.00,1209.00C310.33,1210.33 311.17,1207.50 313.00,1206.00C314.83,1204.50 317.50,1202.00 320.00,1200.00C322.50,1198.00 325.33,1196.67 328.00,1194.00C330.67,1191.33 333.33,1187.17 336.00,1184.00C338.67,1180.83 341.33,1178.00 344.00,1175.00C346.67,1172.00 349.67,1170.83 352.00,1166.00C354.33,1161.17 356.17,1153.33 358.00,1146.00C359.83,1138.67 361.50,1128.33 363.00,1122.00C364.50,1115.67 365.67,1110.83 367.00,1108.00C368.33,1105.17 369.67,1104.33 371.00,1105.00C372.33,1105.67 373.50,1107.83 375.00,1112.00C376.50,1116.17 378.17,1124.00 380.00,1130.00C381.83,1136.00 384.07,1144.00 386.00,1148.00C387.93,1152.00 389.77,1154.00 391.60,1154.00C393.43,1154.00 395.10,1152.33 397.00,1148.00C398.90,1143.67 400.70,1136.07 403.00,1128.00C405.30,1119.93 408.83,1107.03 410.80,1099.60C412.77,1092.17 413.47,1088.75 414.80,1083.40C416.13,1078.05 417.62,1071.87 418.80,1067.50C419.98,1063.13 420.85,1060.37 421.90,1057.20C422.95,1054.03 423.77,1051.40 425.10,1048.50C426.43,1045.60 428.05,1041.85 429.90,1039.80C431.75,1037.75 433.97,1036.97 436.20,1036.20C438.43,1035.43 440.93,1035.13 443.30,1035.20C445.67,1035.27 448.15,1035.43 450.40,1036.60C452.65,1037.77 455.08,1040.35 456.80,1042.20C458.52,1044.05 459.38,1045.20 460.70,1047.70C462.02,1050.20 463.37,1053.50 464.70,1057.20C466.03,1060.90 467.12,1064.22 468.70,1069.90C470.28,1075.58 471.98,1084.28 474.20,1091.30C476.42,1098.32 479.37,1104.55 482.00,1112.00C484.63,1119.45 487.33,1126.67 490.00,1136.00C492.67,1145.33 495.33,1158.00 498.00,1168.00C500.67,1178.00 503.33,1188.00 506.00,1196.00C508.67,1204.00 511.33,1209.33 514.00,1216.00C516.67,1222.67 519.33,1229.33 522.00,1236.00C524.67,1242.67 527.33,1249.67 530.00,1256.00C532.67,1262.33 535.33,1268.33 538.00,1274.00C540.67,1279.67 543.00,1286.00 546.00,1290.00C549.00,1294.00 552.67,1296.00 556.00,1298.00C559.33,1300.00 562.00,1301.17 566.00,1302.00C570.00,1302.83 575.67,1302.83 580.00,1303.00C584.33,1303.17 588.67,1303.67 592.00,1303.00C595.33,1302.33 597.33,1301.17 600.00,1299.00C602.67,1296.83 605.00,1293.83 608.00,1290.00C611.00,1286.17 614.33,1281.33 618.00,1276.00C621.67,1270.67 626.33,1264.00 630.00,1258.00C633.67,1252.00 637.00,1245.33 640.00,1240.00C643.00,1234.67 645.00,1230.33 648.00,1226.00C651.00,1221.67 654.33,1218.00 658.00,1214.00C661.67,1210.00 666.33,1204.83 670.00,1202.00C673.67,1199.17 677.00,1197.33 680.00,1197.00C683.00,1196.67 685.33,1197.50 688.00,1200.00C690.67,1202.50 693.33,1208.00 696.00,1212.00C698.67,1216.00 701.33,1220.33 704.00,1224.00C706.67,1227.67 710.00,1232.00 712.00,1234.00C714.00,1236.00 714.33,1236.67 716.00,1236.00C717.67,1235.33 720.00,1234.33 722.00,1230.00C724.00,1225.67 725.67,1217.67 728.00,1210.00C730.33,1202.33 733.33,1192.33 736.00,1184.00C738.67,1175.67 741.33,1167.33 744.00,1160.00C746.67,1152.67 749.67,1145.00 752.00,1140.00C754.33,1135.00 756.33,1132.00 758.00,1130.00C759.67,1128.00 760.33,1127.00 762.00,1128.00C763.67,1129.00 765.67,1130.67 768.00,1136.00C770.33,1141.33 773.67,1151.00 776.00,1160.00C778.33,1169.00 780.00,1178.33 782.00,1190.00C784.00,1201.67 786.00,1216.67 788.00,1230.00C790.00,1243.33 792.00,1257.00 794.00,1270.00C796.00,1283.00 798.40,1300.17 800.00,1308.00C801.60,1315.83 802.27,1317.00 803.60,1317.00C804.93,1317.00 806.27,1315.83 808.00,1308.00C809.73,1300.17 812.00,1283.00 814.00,1270.00C816.00,1257.00 818.00,1243.33 820.00,1230.00C822.00,1216.67 824.00,1201.67 826.00,1190.00C828.00,1178.33 829.73,1170.00 832.00,1160.00C834.27,1150.00 837.48,1138.53 839.60,1130.00C841.72,1121.47 842.80,1115.53 844.70,1108.80C846.60,1102.07 848.87,1095.98 851.00,1089.60C853.13,1083.22 855.35,1076.45 857.50,1070.50C859.65,1064.55 861.57,1059.43 863.90,1053.90C866.23,1048.37 869.12,1042.83 871.50,1037.30C873.88,1031.77 877.08,1023.47 878.20,1020.70" stroke="#444"/>
</g>
<path d="M158.6,856 V1390 M157.6,1389 H879.6 M148.6,857 H158.6 M148.6,1034.3 H158.6 M148.6,1211.7 H158.6 M148.6,1389 H158.6 M153.6,945.7 H158.6 M153.6,1123.0 H158.6 M153.6,1300.3 H158.6 M158.6,1389 V1399 M278.6,1389 V1399 M398.6,1389 V1399 M518.6,1389 V1399 M638.6,1389 V1399 M758.6,1389 V1399 M878.6,1389 V1399 M218.6,1389 V1394 M338.6,1389 V1394 M458.6,1389 V1394 M578.6,1389 V1394 M698.6,1389 V1394 M818.6,1389 V1394" stroke="#000" stroke-width="2" fill="none"/>
<g font-family='"Liberation Serif", serif' font-size="43" fill="#000">
<text x="118.9" y="874.15" text-anchor="end">0</text>
<text x="128.5" y="1040.3" text-anchor="end">10</text>
<text x="132" y="1226.6" text-anchor="end">20</text>
<text x="140.3" y="1390.1" text-anchor="end">30</text>
<text x="158.6" y="1439.5" text-anchor="middle">1100</text>
<text x="278.6" y="1439.5" text-anchor="middle">1000</text>
<text x="398.6" y="1439.5" text-anchor="middle">900</text>
<text x="518.6" y="1439.5" text-anchor="middle">800</text>
<text x="638.6" y="1439.5" text-anchor="middle">700</text>
<text x="758.6" y="1439.5" text-anchor="middle">600</text>
<text x="878.6" y="1439.5" text-anchor="middle">500</text>
</g>
<text transform="translate(46,1137) rotate(-90)" text-anchor="middle" font-family='"Liberation Serif", serif' font-size="43">Transmittance, %</text>
<text x="373" y="1487" font-family='"Liberation Serif", serif' font-size="42.5">Wavenumber, cm<tspan font-size="26" dy="-19.5">−1</tspan></text>
<text x="498" y="1547.5" text-anchor="middle" font-family='"Liberation Serif", serif' font-size="34">(<tspan font-weight="bold">b</tspan>)</text>
<g font-family='"Liberation Serif", serif' font-size="33.5" fill="#000">
<text transform="translate(321.6,1237.2) rotate(-90)" text-anchor="middle">974</text>
<text transform="translate(404,1182.3) rotate(-90)" text-anchor="middle">904</text>
<text transform="translate(583.5,1331.6) rotate(-90)" text-anchor="middle">743</text>
<text transform="translate(731.4,1265.2) rotate(-90)" text-anchor="middle">635</text>
<text transform="translate(809.1,1339.1) rotate(-90)" text-anchor="middle">560</text>
</g>
<rect x="723.2" y="782.3" width="272.8" height="160.7" fill="#fff" stroke="#808080" stroke-width="1"/>
<line x1="730.6" y1="801.3" x2="788.2" y2="801.3" stroke="#777" stroke-width="1"/>
<text x="795" y="810.0" font-family='"Liberation Sans", sans-serif' font-size="26">(Mo) = 100</text>
<line x1="730.6" y1="832.9" x2="788.2" y2="832.9" stroke="#7078d0" stroke-width="1"/>
<text x="795" y="841.6" font-family='"Liberation Sans", sans-serif' font-size="26">(Mo)/(W) = 95/5</text>
<line x1="730.6" y1="864.5" x2="788.2" y2="864.5" stroke="#a0a8ff" stroke-width="1"/>
<text x="795" y="873.2" font-family='"Liberation Sans", sans-serif' font-size="26">(Mo)/(W) = 90/10</text>
<line x1="730.6" y1="896.4" x2="788.2" y2="896.4" stroke="#949cff" stroke-width="1"/>
<text x="795" y="905.1" font-family='"Liberation Sans", sans-serif' font-size="26">(Mo)/(W) = 80/20</text>
<line x1="730.6" y1="928.4" x2="788.2" y2="928.4" stroke="#7c84ff" stroke-width="1"/>
<text x="795" y="937.1" font-family='"Liberation Sans", sans-serif' font-size="26">(Mo)/(W) = 50/50</text>
</svg></body></html>
